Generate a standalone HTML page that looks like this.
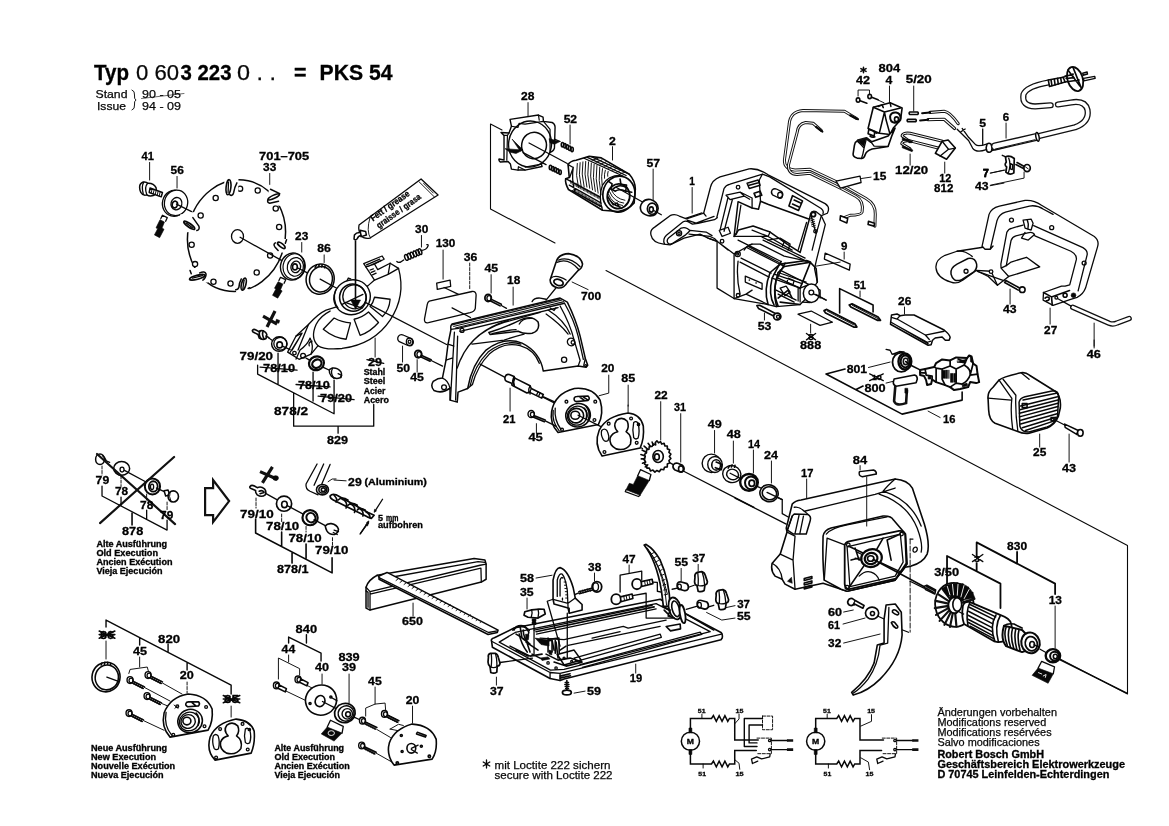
<!DOCTYPE html>
<html><head><meta charset="utf-8"><title>PKS 54</title>
<style>
html,body{margin:0;padding:0;background:#fff;}
svg{display:block;font-family:"Liberation Sans",sans-serif;will-change:transform;opacity:0.999;}
svg *{vector-effect:non-scaling-stroke;}
.s{fill:none;stroke:#080808;stroke-width:1.3;stroke-linecap:round;stroke-linejoin:round;}
.t{fill:none;stroke:#080808;stroke-width:0.95;stroke-linecap:round;stroke-linejoin:round;}
.h{fill:none;stroke:#080808;stroke-width:1.6;stroke-linecap:round;stroke-linejoin:round;}
.w{fill:#fff;stroke:#080808;stroke-width:1.3;stroke-linecap:round;stroke-linejoin:round;}
.k{fill:#080808;stroke:#080808;stroke-width:0.6;stroke-linejoin:round;}
.b{font-weight:bold;fill:#000;stroke:#000;stroke-width:0.3;}
.r{fill:#080808;stroke:#080808;stroke-width:0.25;}
</style></head><body>
<svg width="1169" height="826" viewBox="0 0 1169 826">
<rect x="0" y="0" width="1169" height="826" fill="#fff"/>
<!-- 00_title.svg -->
<g>
<text x="94" y="80.2" font-size="21.6" class="b" textLength="35" lengthAdjust="spacingAndGlyphs">Typ</text>
<text x="136" y="80.2" font-size="21.6" class="r" textLength="43" lengthAdjust="spacingAndGlyphs">0 60</text>
<text x="180.5" y="80.2" font-size="21.6" class="b" textLength="51" lengthAdjust="spacingAndGlyphs">3 223</text>
<text x="237" y="80.2" font-size="21.6" class="r" textLength="39" lengthAdjust="spacingAndGlyphs">0 . .</text>
<text x="294" y="80.2" font-size="21.6" class="b" textLength="12.5" lengthAdjust="spacingAndGlyphs">=</text><text x="319.5" y="80.2" font-size="21.6" class="b" textLength="73" lengthAdjust="spacingAndGlyphs">PKS 54</text>
<text x="95.5" y="98" font-size="11.5" class="r" textLength="32" lengthAdjust="spacingAndGlyphs">Stand</text>
<text x="97" y="109.5" font-size="11.5" class="r" textLength="29" lengthAdjust="spacingAndGlyphs">Issue</text>
<path class="t" d="M132 90 q3 1 2.5 5 q-0.5 4 1.5 5 q-2 1 -1.500 5 q0.5 4 -2.5 5"/>
<text x="142" y="98" font-size="11.5" class="r" textLength="39" lengthAdjust="spacingAndGlyphs">90 - 05</text>
<text x="142" y="109.5" font-size="11.5" class="r" textLength="39" lengthAdjust="spacingAndGlyphs">94 - 09</text>
<path class="t" d="M141.500 98.5 L184 93.5" style="stroke-width:0.6"/>
</g>

<!-- 10_blade.svg -->
<g transform="translate(120 140) scale(0.20016)">
<!-- labels -->
<text x="108" y="100" font-size="56" class="b" textLength="62" lengthAdjust="spacingAndGlyphs">41</text>
<text x="253" y="170" font-size="56" class="b" textLength="66" lengthAdjust="spacingAndGlyphs">56</text>
<text x="695" y="100" font-size="56" class="b" textLength="250" lengthAdjust="spacingAndGlyphs">701–705</text>
<text x="715" y="155" font-size="56" class="b" textLength="66" lengthAdjust="spacingAndGlyphs">33</text>
<text x="875" y="500" font-size="56" class="b" textLength="66" lengthAdjust="spacingAndGlyphs">23</text>
<text x="985" y="562" font-size="56" class="b" textLength="68" lengthAdjust="spacingAndGlyphs">86</text>
<path class="t" d="M148 112V200M285 182V240M748 167V222M908 512V560M1020 574V612"/>
<!-- bolt 41 -->
<path class="w" d="M98 236 q0 -20 18 -26 q16 -2 22 6 q30 -2 42 22 q6 24 -10 38 q-22 8 -36 -2 q-20 6 -30 -12 q-6 -12 -6 -26z" style="stroke-width:1.5"/>
<path class="s" d="M138 216 q-18 20 -4 58 M118 212 q-12 20 -2 56"/>
<path class="w" d="M150 240 L212 262 L206 284 L146 262Z" style="stroke-width:1.5"/>
<path class="t" d="M160 246l-4 18M170 250l-4 18M180 254l-4 18M190 258l-4 18M200 262l-4 18"/>
<!-- washer 56 -->
<ellipse class="w" cx="272" cy="316" rx="60" ry="65" transform="rotate(15 272 316)"/>
<ellipse class="w" cx="280" cy="314" rx="58" ry="64" transform="rotate(15 280 314)"/>
<ellipse class="s" cx="282" cy="318" rx="27" ry="31" transform="rotate(15 282 318)"/>
<ellipse class="h" cx="274" cy="322" rx="13" ry="17" transform="rotate(15 274 322)"/>
<path class="s" d="M282 320 L358 358"/>
<!-- wrench icon 1 -->
<path class="k" d="M200 398 l22 12 l-12 30 l10 6 l-22 42 l-26 -14 l16 -30 l-8 -5z"/>
<path class="s" d="M204 392 l8 -16 l24 12 l-8 18"/>
<!-- blade -->
<ellipse class="w" cx="582" cy="478" rx="243" ry="280" transform="rotate(12 582 478)" style="stroke-width:1.5"/>
<g class="w">
<circle cx="600" cy="243" r="13"/><circle cx="688" cy="252" r="13"/><circle cx="478" cy="290" r="13"/>
<circle cx="778" cy="342" r="13"/><circle cx="403" cy="377" r="13"/><circle cx="795" cy="435" r="13"/>
<circle cx="358" cy="523" r="13"/><circle cx="750" cy="577" r="13"/><circle cx="375" cy="620" r="13"/>
<circle cx="683" cy="662" r="13"/><circle cx="467" cy="708" r="13"/><circle cx="552" cy="717" r="13"/>
<ellipse cx="587" cy="482" rx="30" ry="34"/>
</g>
<!-- teeth -->
<g>
<path d="M520 190 L592 188 L590 290 L525 290z" fill="#fff" stroke="none"/>
<ellipse class="w" cx="542" cy="236" rx="12" ry="38" transform="rotate(6 542 236)" style="stroke-width:1.6"/>
<path class="s" d="M542 210 L540 262"/>
<path class="s" d="M548 273 Q562 284 568 262 Q572 236 584 214" style="stroke-width:1.5"/>
<path d="M748 236 L820 262 L806 330 L726 318z" fill="#fff" stroke="none"/>
<path class="s" d="M752 246 L798 268" style="stroke-width:1.5"/>
<ellipse class="w" cx="768" cy="284" rx="31" ry="8" transform="rotate(-25 768 284)" style="stroke-width:1.6"/>
<path class="s" d="M740 297 Q732 312 748 316 L792 306" style="stroke-width:1.5"/>
<path d="M300 372 L372 360 L410 455 L322 462z" fill="#fff" stroke="none"/>
<ellipse class="w" cx="346" cy="426" rx="33" ry="9" transform="rotate(36 346 426)" style="stroke-width:1.7"/>
<path class="s" d="M330 414 L362 438"/>
<path class="s" d="M364 388 L394 430 Q400 448 384 452" style="stroke-width:1.5"/>
<path d="M762 494 L846 494 L838 566 L762 556z" fill="#fff" stroke="none"/>
<ellipse class="w" cx="806" cy="526" rx="23" ry="9" transform="rotate(38 806 526)" style="stroke-width:1.7"/>
<path class="s" d="M832 498 L826 516 M776 514 Q764 522 774 534 L790 552" style="stroke-width:1.5"/>
<path d="M330 640 L436 640 L440 712 L345 712z" fill="#fff" stroke="none"/>
<ellipse class="w" cx="386" cy="686" rx="40" ry="10" transform="rotate(-14 386 686)" style="stroke-width:1.7"/>
<path class="s" d="M362 690 L412 678"/>
<path class="s" d="M350 652 L356 668 M398 664 Q424 652 430 670 Q430 690 414 700" style="stroke-width:1.5"/>
<path d="M578 682 L650 680 L646 762 L580 760z" fill="#fff" stroke="none"/>
<ellipse class="w" cx="618" cy="720" rx="11" ry="31" transform="rotate(14 618 720)" style="stroke-width:1.7"/>
<path class="s" d="M620 700 L614 742"/>
<path class="s" d="M578 748 Q590 748 594 736 Q596 712 606 694 M640 742 L648 738" style="stroke-width:1.5"/>
</g>
<path class="s" d="M600 486 L858 630"/>
<!-- washer 23 -->
<ellipse class="w" cx="862" cy="632" rx="60" ry="68" transform="rotate(12 862 632)" style="stroke-width:1.4"/>
<ellipse class="s" cx="870" cy="632" rx="55" ry="64" transform="rotate(12 870 632)" style="stroke-width:1.2"/>
<ellipse class="s" cx="876" cy="634" rx="40" ry="47" transform="rotate(12 876 634)" style="stroke-width:1.2"/>
<ellipse class="s" cx="878" cy="634" rx="24" ry="29" transform="rotate(12 878 634)"/>
<ellipse class="h" cx="874" cy="634" rx="12" ry="15"/>
<path class="s" d="M886 638 L936 664"/>
<!-- wrench icon 2 -->
<path class="k" d="M790 708 l24 12 l-12 28 l8 6 l-22 36 l-26 -14 l16 -30 l-6 -6z"/>
<path class="s" d="M794 702 l8 -16 l26 12 l-8 18"/>
<!-- ring 86 -->
<ellipse class="w" cx="1000" cy="695" rx="70" ry="76" transform="rotate(12 1000 695)" style="stroke-width:1.5"/>
<ellipse class="s" cx="1004" cy="696" rx="57" ry="64" transform="rotate(12 1004 696)" style="stroke-width:1.5"/>
<path class="h" d="M975 636 l6 -10 M992 632 l4 -10 M1008 634 l2 -10 M1022 638 l2 -8"/>
<path class="s" d="M1000 695 L1085 742"/>
</g>

<!-- 20_guard.svg -->
<g transform="translate(230 250) scale(0.20016)">
<!-- guard body -->
<path class="w" d="M690 178 L722 150 L668 68 L760 30 L770 46 L722 70 L738 98 L800 66 L842 92 Q880 230 800 350 Q720 470 560 492 Q470 500 440 478 L405 520 L345 546 L288 510 L330 430 L392 372 Q440 318 480 300 L540 282 Z"/>
<path class="s" d="M722 150 L790 122 L800 66 M790 122 L842 92 M678 84 L722 70 M682 74 L748 46 M690 82 L756 52 M700 100 L716 94 M706 112 L724 104 M712 124 L730 116"/>
<path class="s" d="M440 478 Q400 440 430 372 Q450 330 500 305 M405 520 Q420 480 400 440 Q390 470 350 500 L330 545 M330 430 L360 415 L310 500 M345 440 L300 512"/>
<path class="s" d="M392 372 L340 500"/>
<circle class="s" cx="322" cy="515" r="9"/><circle class="s" cx="365" cy="528" r="12"/>
<path class="s" d="M410 455 q-20 6 -14 24"/>
<!-- windows -->
<path class="s" d="M466 396 L520 340 Q560 362 602 364 L580 446 Q520 440 466 396Z"/>
<path class="s" d="M620 346 Q660 338 692 310 L742 362 Q700 410 650 426Z"/>
<path class="s" d="M722 236 L800 246 Q796 300 762 332 L700 282 Q716 262 722 236Z"/>
<!-- hub -->
<ellipse class="w" cx="610" cy="236" rx="92" ry="86" transform="rotate(-25 610 236)" style="stroke-width:1.4"/>
<path class="s" d="M528 200 Q510 250 540 290 M585 152 l6 -12 l12 4"/>
<ellipse class="w" cx="614" cy="238" rx="66" ry="68" transform="rotate(-25 614 238)" style="stroke-width:1.6"/>
<ellipse class="s" cx="622" cy="234" rx="58" ry="60" transform="rotate(-25 622 234)"/>
<path class="s" d="M560 272 L664 222 M575 262 L660 290"/>
<!-- arrow -->
<path class="h" d="M627 -45 V262"/>
<path class="k" d="M603 250 L652 250 L628 296Z"/>
<!-- axis line -->
<path class="s" d="M676 262 L1082 472"/>
<!-- labels -->
<text x="48" y="550" font-size="56" class="b" textLength="167" lengthAdjust="spacingAndGlyphs">79/20</text>
<text x="165" y="612" font-size="56" class="b" textLength="160" lengthAdjust="spacingAndGlyphs">78/10</text>
<text x="340" y="697" font-size="56" class="b" textLength="158" lengthAdjust="spacingAndGlyphs">78/10</text>
<text x="450" y="757" font-size="56" class="b" textLength="160" lengthAdjust="spacingAndGlyphs">79/20</text>
<text x="220" y="822" font-size="56" class="b" textLength="170" lengthAdjust="spacingAndGlyphs">878/2</text>
<path class="s" d="M150 585 L335 600 M330 672 L500 684 M440 730 L620 748"/>
<text x="690" y="580" font-size="56" class="b" textLength="70" lengthAdjust="spacingAndGlyphs">29</text>
<path class="s" d="M684 548 L768 566"/>
<text x="668" y="626" font-size="44" class="b" textLength="108" lengthAdjust="spacingAndGlyphs">Stahl</text>
<text x="668" y="672" font-size="44" class="b" textLength="108" lengthAdjust="spacingAndGlyphs">Steel</text>
<text x="668" y="718" font-size="44" class="b" textLength="108" lengthAdjust="spacingAndGlyphs">Acier</text>
<text x="668" y="763" font-size="44" class="b" textLength="126" lengthAdjust="spacingAndGlyphs">Acero</text>
<text x="832" y="608" font-size="56" class="b" textLength="68" lengthAdjust="spacingAndGlyphs">50</text>
<text x="900" y="656" font-size="56" class="b" textLength="68" lengthAdjust="spacingAndGlyphs">45</text>
<path class="t" d="M725 440V535M862 480V560M935 548V610"/>
<text x="485" y="968" font-size="56" class="b" textLength="105" lengthAdjust="spacingAndGlyphs">829</text>
<!-- bracket lines -->
<path class="s" d="M138 575V620L520 818M240 515V668M415 610V755M520 650V818M318 715V880H718V772M540 880V915"/>
<!-- bushing 50 -->
<path class="w" d="M842 430 q10 -12 26 -4 l40 18 q14 14 4 28 q-10 12 -26 4 l-40 -18 q-14 -12 -4 -28z"/>
<ellipse class="s" cx="897" cy="458" rx="16" ry="18"/><ellipse class="s" cx="897" cy="458" rx="7" ry="8"/>
<!-- screw 45 -->
<ellipse class="w" cx="940" cy="520" rx="17" ry="19" style="stroke-width:1.8"/><ellipse class="s" cx="946" cy="522" rx="12" ry="14"/>
<path class="h" d="M955 526 L1005 548 M952 534 L1000 556"/>
<path class="s" d="M1005 552 L1062 580"/>
<!-- X mark -->
<path d="M165 330 L235 370 M225 305 L185 385" stroke="#111" stroke-width="3.2" fill="none" stroke-linecap="butt"/>
<path class="k" d="M232 346 l16 6 l-4 14 l-16 -6z"/>
<!-- bolt 79/20 left -->
<path class="w" d="M112 402 q6 -10 18 -2 l14 8 l12 -6 q20 0 28 20 l-4 20 q-16 10 -34 -2 l-6 -18 l-16 -8 q-14 -4 -12 -12z" style="stroke-width:1.6"/>
<path class="h" d="M150 404 q-10 20 6 40 M166 404 q-8 18 4 40 M180 430 l14 8"/>
<!-- washer 78 left -->
<ellipse class="w" cx="246" cy="470" rx="38" ry="36" style="stroke-width:1.5"/>
<ellipse class="s" cx="252" cy="468" rx="33" ry="32"/>
<ellipse class="s" cx="248" cy="474" rx="14" ry="15" style="stroke-width:1.6"/>
<path class="s" d="M194 440 L212 452 M262 480 L300 498"/>
<!-- washer 78 right -->
<ellipse class="w" cx="432" cy="566" rx="38" ry="34" style="stroke-width:2.2" transform="rotate(-20 432 566)"/>
<ellipse class="s" cx="434" cy="568" rx="24" ry="20" style="stroke-width:2.2" transform="rotate(-30 434 568)"/>
<path class="s" d="M380 540 L398 550 M466 586 L500 602"/>
<!-- bolt 79/20 right -->
<path class="w" d="M496 598 l14 -8 q26 -4 44 18 q8 18 -4 30 q-24 10 -44 -8 q-12 -16 -10 -32z" style="stroke-width:1.5"/>
<path class="s" d="M512 592 q-12 22 6 48 M540 618 l18 8 l-4 12"/>
</g>

<!-- 30_tube.svg -->
<g transform="translate(340 165) scale(0.20016)">
<!-- grease tube -->
<path class="w" d="M95 300 L405 70 L490 150 L150 365 Q120 372 104 352 Q90 325 95 300Z"/>
<path class="s" d="M395 84 L472 160 M418 92l8 8M428 102l8 8M438 112l8 8M448 122l8 8M458 132l8 8M152 365 Q130 330 150 262" style="stroke-width:0.9"/>
<path class="w" d="M100 326 l28 6 l4 18 l-26 8z M72 350 q10 -14 30 -12 l4 14 q-14 0 -20 16 q-10 10 -16 2z" style="stroke-width:1.5"/>
<g transform="rotate(-35.5 165 282)"><text x="165" y="282" font-size="44" class="b" textLength="228" lengthAdjust="spacingAndGlyphs">Fett / grease</text></g>
<g transform="rotate(-35.5 195 318)"><text x="195" y="318" font-size="44" class="b" textLength="262" lengthAdjust="spacingAndGlyphs">graisse / grasa</text></g>
<!-- 30 spring -->
<text x="375" y="340" font-size="56" class="b" textLength="66" lengthAdjust="spacingAndGlyphs">30</text>
<path class="t" d="M407 352V410"/>
<path class="s" d="M284 482 q10 12 34 -8 M404 428 q30 -4 36 -24 q2 -8 -6 -6"/>
<g class="s" style="stroke-width:1.5"><ellipse cx="332" cy="462" rx="8" ry="15" transform="rotate(-20 332 462)"/><ellipse cx="346" cy="456" rx="8" ry="15" transform="rotate(-20 346 456)"/><ellipse cx="360" cy="450" rx="8" ry="15" transform="rotate(-20 360 450)"/><ellipse cx="374" cy="444" rx="8" ry="15" transform="rotate(-20 374 444)"/><ellipse cx="388" cy="438" rx="8" ry="15" transform="rotate(-20 388 438)"/><ellipse cx="400" cy="433" rx="8" ry="15" transform="rotate(-20 400 433)"/></g>
<!-- 130 -->
<text x="478" y="410" font-size="56" class="b" textLength="98" lengthAdjust="spacingAndGlyphs">130</text>
<path class="t" d="M515 425V570"/>
<path class="w" d="M483 590 L550 575 L553 606 L486 621Z"/>
<path class="s" d="M520 612 L592 646"/>
<!-- 36 -->
<text x="618" y="478" font-size="56" class="b" textLength="68" lengthAdjust="spacingAndGlyphs">36</text>
<path class="t" d="M648 490V622" stroke-dasharray="3 1.5"/>
<path class="w" d="M446 680 L660 632 Q680 630 680 650 L676 716 Q672 732 650 738 L442 788 Q420 792 422 770 L436 696 Q438 684 446 680Z"/>
<path class="s" d="M560 714 L652 762"/>
<!-- 45 -->
<text x="722" y="535" font-size="56" class="b" textLength="68" lengthAdjust="spacingAndGlyphs">45</text>
<path class="t" d="M755 548V640"/>
<ellipse class="w" cx="740" cy="664" rx="16" ry="18" style="stroke-width:1.8"/><ellipse class="s" cx="745" cy="666" rx="11" ry="13"/>
<path class="h" d="M754 670 L806 696 M750 678 L800 704"/>
<path class="s" d="M806 702 L832 716"/>
<!-- 18 -->
<text x="835" y="595" font-size="56" class="b" textLength="66" lengthAdjust="spacingAndGlyphs">18</text>
<path class="t" d="M865 610V700"/>
</g>
<!-- long boundary line -->
<path class="s" d="M502 130 L490.500 124 V209 L555 243 M606 270.500 L1127.500 545.500 V694 L1059 658.500" style="stroke-width:1.1"/>

<!-- 40_stator.svg -->
<g transform="translate(480 85) scale(0.20016)">
<text x="205" y="75" font-size="56" class="b" textLength="67" lengthAdjust="spacingAndGlyphs">28</text>
<text x="418" y="188" font-size="56" class="b" textLength="67" lengthAdjust="spacingAndGlyphs">52</text>
<text x="645" y="298" font-size="56" class="b" textLength="34" lengthAdjust="spacingAndGlyphs">2</text>
<text x="832" y="408" font-size="56" class="b" textLength="68" lengthAdjust="spacingAndGlyphs">57</text>
<text x="1046" y="500" font-size="56" class="b" textLength="28" lengthAdjust="spacingAndGlyphs">1</text>
<path class="t" d="M240 88V160M450 200V295M662 308V375M865 420V575M1060 512V640"/>
<!-- fan 28 -->
<path class="w" d="M150 172 L292 150 L315 160 L317 182 L360 187 Q376 196 375 212 L372 315 Q366 334 350 335 L307 395 L310 407 L225 425 L190 425 L157 420 L152 395 L140 382 L102 385 Q92 378 95 370 L120 375 L120 252 L105 237 L145 240 L157 206 Z" style="stroke-width:1.4"/>
<ellipse class="w" cx="250" cy="295" rx="107" ry="115" transform="rotate(10 250 295)" style="stroke-width:1.4"/>
<ellipse class="w" cx="270" cy="302" rx="62" ry="66" transform="rotate(10 270 302)" style="stroke-width:1.5"/>
<path class="s" d="M157 206 L190 212 L195 192 L225 195 L317 182 M292 150 L296 176 M120 252 L137 252 L145 240 M137 252 L134 376 M190 425 L192 408 L225 425 M226 410 L307 395 M350 222 L350 335 M350 222 L317 182 M372 270 L400 282" style="stroke-width:1.2"/>
<path class="k" d="M345 268 L400 282 L372 296 L350 290Z M125 318 L215 325 L180 342 L150 336Z M160 270 L215 325 L200 330Z"/>
<path class="s" d="M245 290 L436 392 M215 338 L330 398"/>
<!-- springs 52 -->
<g class="s" style="stroke-width:1.6"><ellipse cx="412" cy="298" rx="6" ry="11"/><ellipse cx="424" cy="304" rx="6" ry="11"/><ellipse cx="436" cy="310" rx="6" ry="11"/><ellipse cx="448" cy="316" rx="6" ry="11"/><ellipse cx="460" cy="322" rx="6" ry="11"/>
<ellipse cx="352" cy="412" rx="6" ry="11"/><ellipse cx="364" cy="418" rx="6" ry="11"/><ellipse cx="376" cy="424" rx="6" ry="11"/><ellipse cx="388" cy="430" rx="6" ry="11"/><ellipse cx="400" cy="436" rx="6" ry="11"/></g>
<!-- stator 2 -->
<path class="w" d="M440 398 Q450 380 480 376 L546 356 L606 364 L746 446 Q776 480 776 520 L770 590 Q740 625 690 632 L612 626 L442 522 Q424 490 428 468 L446 462 Z" style="stroke-width:1.6"/>
<path class="s" d="M440 398 l26 14 l-18 50 M612 626 Q590 560 612 500 Q640 452 700 452 M466 412 Q456 470 474 536 M520 366 L716 456 M556 358 L746 446 M536 362 L730 452 M428 468 L600 560 M446 500 L606 590 M460 528 L610 610"/>
<g class="t"><path d="M486 392 q-10 60 6 120 M500 388 q-10 60 6 122 M514 384 q-10 60 6 124 M528 382 q-10 62 6 128 M542 384 q-10 64 6 132 M556 390 q-10 64 6 134 M570 396 q-10 64 6 136 M584 402 q-10 64 6 138 M598 410 q-8 64 6 138 M612 418 q-8 40 -2 80 M626 426 q-6 20 -4 40 M640 432 q-4 14 -2 24"/>

<path d="M560 376 l30 -10 M580 386 l30 -12 M600 396 l30 -12 M620 406 l30 -12 M640 416 l30 -12 M660 426 l30 -12 M680 436 l30 -12 M700 444 l24 -8"/></g>
<path class="t" d="M452 476 l2 16 M459 480 l2 16 M466 484 l2 16 M473 488 l2 16 M480 491 l2 16 M487 495 l2 16 M494 499 l2 16 M501 503 l2 16 M508 507 l2 16 M515 511 l2 16 M522 514 l2 16 M529 518 l2 16 M536 522 l2 16 M543 526 l2 16 M550 530 l2 16 M557 534 l2 16 M564 538 l2 16 M571 541 l2 16 M578 545 l2 16 M585 549 l2 16 M592 553 l2 16 M599 557 l2 16 M470 520 l2 14 M477 524 l2 14 M484 528 l2 14 M491 532 l2 14 M498 536 l2 14 M505 540 l2 14 M512 544 l2 14 M519 548 l2 14 M526 552 l2 14 M533 557 l2 14 M540 561 l2 14 M547 565 l2 14 M554 569 l2 14 M561 573 l2 14 M568 577 l2 14 M575 581 l2 14 M582 585 l2 14 M589 589 l2 14 M596 593 l2 14" style="stroke-width:0.8"/>
<ellipse class="s" cx="694" cy="545" rx="80" ry="90" transform="rotate(10 694 545)" style="stroke-width:1.7"/>
<ellipse class="s" cx="692" cy="556" rx="56" ry="62" transform="rotate(10 692 556)" style="stroke-width:1.8"/>
<path class="h" d="M640 480 l20 14 l-6 26 l20 10 M700 470 l4 26 l28 4 l-4 30 l30 6 M640 560 q20 40 60 50 M650 576 l16 22 l20 -8 l10 20 M664 520 q30 -30 70 -6 M676 530 q20 -14 50 0"/>
<g class="t"><path d="M642 546 q20 50 70 56 M648 534 q20 50 70 56 M656 524 q20 44 68 52"/></g>
<path class="s" d="M682 512 L850 606"/>
<!-- bushing 57 -->
<path class="w" d="M812 586 q14 -18 40 -14 q36 10 38 44 q-4 36 -40 38 q-26 -2 -44 -22 q-12 -24 6 -46z" style="stroke-width:1.6"/>
<ellipse class="s" cx="860" cy="618" rx="24" ry="28" style="stroke-width:1.6"/>
<ellipse class="h" cx="856" cy="622" rx="10" ry="13"/>
<path class="s" d="M866 626 L906 648"/>
</g>

<!-- 50_housing1.svg -->
<g transform="translate(640 150) scale(0.20016)">
<!-- outer silhouette fill white -->
<path class="w" d="M55 425 Q48 400 75 384 L150 328 Q172 316 196 330 L232 344 L318 316 L352 186 Q360 150 400 134 L545 94 Q592 90 640 124 L925 268 Q952 286 936 316 L906 328 L926 372 L882 548 L872 592 L886 660 L830 742 L800 772 L680 782 L640 772 L470 742 L385 690 L385 456 L340 440 L300 420 L220 440 L150 474 L118 470 Q62 462 55 425Z"/>
<!-- knob loops -->
<path class="s" d="M122 468 Q112 446 132 426 L214 360 Q226 352 240 358 L262 370 L290 366 L372 348 L386 338 M140 466 Q130 450 144 438 L206 390 Q222 384 236 392 L250 402 Q240 414 228 424 L160 468 Q148 474 140 466 Z M228 342 L310 314 M236 350 L280 365 L370 332 M245 420 L350 432 L372 442 L384 454 M250 402 L330 410 L360 428 M318 316 L330 330"/>
<circle class="s" cx="195" cy="416" r="13"/><circle class="s" cx="195" cy="416" r="6"/>
<!-- inner rim of top beam -->
<path class="s" d="M384 336 L420 192 Q428 176 450 170 L612 120 L648 134 L905 292 Q920 304 914 318 M612 120 L596 150 L602 256"/>
<!-- hand opening -->
<path class="w" d="M490 258 L560 290 L592 296 L602 256 L642 272 L846 346 L800 512 L735 470 L650 410 L565 380 L492 400 L470 432 Z" style="stroke-width:1.5"/>
<path class="s" d="M504 276 L482 420 M832 362 L790 500 M650 410 L640 432 L560 400 M470 432 L640 432 L760 500"/>
<!-- left pillar -->
<path class="s" d="M440 236 L400 400 M462 246 L420 406 M396 402 L440 386 L452 416 L410 432Z M430 226 L500 210 L520 230 L450 248Z M500 210 L560 240 L560 290 M520 230 L548 246"/>
<!-- top details -->
<path class="s" d="M535 166 L590 150 L600 176 L546 192Z M546 176 L596 162" style="stroke-width:1.5"/>
<circle class="s" cx="490" cy="186" r="9"/>
<path class="s" d="M570 216 l30 -10 l8 20 l-30 10z" style="stroke-width:1.8"/>
<path class="w" d="M660 200 q10 -10 24 -4 l24 12 q10 12 2 24 q-10 10 -24 4 l-24 -12 q-10 -10 -2 -24z"/><ellipse class="s" cx="700" cy="226" rx="12" ry="15"/>
<path class="s" d="M762 228 L812 254 L792 302 L744 280Z M770 250 L800 264 M762 270 L792 284" style="stroke-width:1.6"/>
<!-- right boss -->
<path class="s" d="M846 346 L852 318 Q860 300 880 308 L906 328 M906 328 L880 420 L860 500 M852 318 L880 420"/>
<circle class="s" cx="866" cy="322" r="11" style="stroke-width:1.8"/><circle class="s" cx="876" cy="406" r="8"/>
<path class="t" d="M850 340 l20 8 M852 350 l20 8 M854 360 l20 8 M856 370 l20 8 M858 380 l18 8"/>
<!-- motor box -->
<path class="s" d="M385 456 L470 520 L470 742 M470 520 L530 486 L560 470 M340 440 L385 456 L440 500 M530 486 L700 572 M560 470 L600 470 L720 530 L840 556"/>
<circle class="s" cx="488" cy="520" r="13"/><circle class="s" cx="488" cy="520" r="5"/><circle class="s" cx="410" cy="456" r="9"/><circle class="s" cx="490" cy="726" r="9"/>
<path class="s" d="M526 630 L610 666 L610 696 L526 660Z"/><circle class="k" cx="546" cy="650" r="2.500"/><circle class="k" cx="580" cy="664" r="2.500"/>
<path class="s" d="M470 742 L530 720 L640 772 M530 720 L560 700 M640 450 L700 440 L750 470 L740 500 M700 440 L720 460 L712 480"/>
<!-- motor body lines -->
<path class="s" d="M490 450 L705 557 M540 482 L695 562 M505 540 L655 615 M500 560 L645 635 M610 435 L825 540 M615 450 L830 555 M490 555 Q480 635 500 720 M520 500 Q540 470 560 470 M700 600 L860 680 M690 640 L800 690 M790 685 V755 M800 690 L800 760 M720 610 L900 700 L900 740"/>
<path class="h" d="M705 557 Q680 600 660 640 Q640 720 670 775 M725 565 Q700 610 680 650 Q664 720 690 780"/>
<!-- brush frame -->
<path class="h" d="M640 772 Q616 700 650 612 L700 570 L722 582 L690 612 Q660 700 682 782 M850 560 L880 592 L886 660 M722 582 L852 560 M700 570 L832 552 M832 552 L852 560 L800 690"/>
<path class="s" d="M660 640 L800 690 M670 620 L810 668 M690 612 L830 660 M680 700 L780 750 M690 720 L770 760 M700 690 l30 -10 l20 30 l-26 18z M740 640 l30 12 l-6 22 l-30 -12z"/>
<path class="h" d="M690 740 L740 700 L760 740 M700 760 L800 772"/>
<!-- motor end -->
<ellipse class="w" cx="856" cy="716" rx="40" ry="46" style="stroke-width:1.5"/>
<path class="s" d="M800 690 L840 674 M810 760 L850 762"/>
<circle class="s" cx="856" cy="712" r="12"/>
<path class="s" d="M866 718 L930 750"/>
<!-- plate 9 -->
<text x="1004" y="500" font-size="56" class="b" textLength="32" lengthAdjust="spacingAndGlyphs">9</text>
<path class="t" d="M1020 510V545"/>
<path class="w" d="M925 515 L1050 570 L1046 600 L921 545Z"/>
<path class="t" d="M880 580 L1000 560"/>
</g>

<!-- 55_bolt53.svg -->
<g transform="translate(700 270) scale(0.20016)">
<path class="w" d="M284 178 l14 -2 l76 40 l-6 14 l-76 -38z" style="stroke-width:1.6"/>
<ellipse class="w" cx="386" cy="232" rx="18" ry="17" style="stroke-width:1.7"/><ellipse class="s" cx="390" cy="234" rx="8" ry="8"/>
<text x="288" y="300" font-size="56" class="b" textLength="68" lengthAdjust="spacingAndGlyphs">53</text>
<path class="t" d="M322 215V250"/>
<path class="s" d="M578 122 L630 150"/>
</g>

<!-- 60_switch.svg -->
<g transform="translate(770 60) scale(0.20016)">
<defs>
<path id="w15a" d="M432 292 L372 256 L165 252 Q100 258 96 320 L72 500 Q70 545 125 550 L200 546 L335 610 L480 692 Q528 720 526 770 L524 830"/>
<path id="w15b" d="M256 352 L215 316 L178 312 Q140 320 136 360 L92 525 Q90 570 135 572 L200 566 L355 642 L430 682 Q470 704 460 760 Q455 775 400 776 L365 790"/>
<path id="w5a" d="M800 262 L870 256 Q900 260 940 318"/>
<path id="w5b" d="M790 298 L870 296 L922 342"/>
<path id="w12a" d="M700 408 L660 380 Q660 362 700 366 L862 406"/>
<path id="w12b" d="M700 444 L658 418 Q660 400 700 404 L840 440"/>
</defs>
<g fill="none" stroke-linecap="round" stroke-linejoin="round">
<use href="#w15a" stroke="#111" stroke-width="3"/><use href="#w15a" stroke="#fff" stroke-width="1.1"/>
<use href="#w15b" stroke="#111" stroke-width="3"/><use href="#w15b" stroke="#fff" stroke-width="1.1"/>
<use href="#w5a" stroke="#111" stroke-width="3.2"/><use href="#w5a" stroke="#fff" stroke-width="1.100"/>
<use href="#w5b" stroke="#111" stroke-width="3.2"/><use href="#w5b" stroke="#fff" stroke-width="1.100"/>
<use href="#w12a" stroke="#111" stroke-width="3"/><use href="#w12a" stroke="#fff" stroke-width="1"/>
<use href="#w12b" stroke="#111" stroke-width="3"/><use href="#w12b" stroke="#fff" stroke-width="1"/>
</g>
<path class="h" d="M400 276 L440 296 M230 334 L262 358 M760 266 L800 262 M750 302 L790 298" style="stroke-width:2"/>
<!-- tag 15 -->
<path class="w" d="M330 605 L450 580 L455 612 L352 640Z"/>
<text x="515" y="600" font-size="56" class="b" textLength="66" lengthAdjust="spacingAndGlyphs">15</text>
<path class="t" d="M457 592 L505 585"/>
<!-- connectors at ends of 15 -->
<path class="w" d="M352 778 l36 14 l-4 22 l-34 -14z M492 806 l30 10 l-2 14 l-30 -8z" style="stroke-width:1.6"/>
<!-- labels -->
<path class="h" d="M467 36V64M454 43L480 57M454 57L480 43" style="stroke-width:1.5"/>
<text x="430" y="118" font-size="56" class="b" textLength="70" lengthAdjust="spacingAndGlyphs">42</text>
<path class="t" d="M440 180V150H497V175"/>
<text x="542" y="62" font-size="56" class="b" textLength="108" lengthAdjust="spacingAndGlyphs">804</text>
<text x="577" y="118" font-size="56" class="b" textLength="34" lengthAdjust="spacingAndGlyphs">4</text>
<text x="678" y="115" font-size="56" class="b" textLength="130" lengthAdjust="spacingAndGlyphs">5/20</text>
<path class="t" d="M597 130V215M718 130V255M700 470V525M873 510V565M1063 345V420M1100 565L1169 550M1100 628L1169 615"/>
<text x="625" y="570" font-size="56" class="b" textLength="165" lengthAdjust="spacingAndGlyphs">12/20</text>
<text x="845" y="612" font-size="56" class="b" textLength="60" lengthAdjust="spacingAndGlyphs">12</text>
<text x="820" y="660" font-size="56" class="b" textLength="96" lengthAdjust="spacingAndGlyphs">812</text>
<text x="1045" y="335" font-size="56" class="b" textLength="34" lengthAdjust="spacingAndGlyphs">5</text>
<text x="1063" y="585" font-size="56" class="b" textLength="30" lengthAdjust="spacingAndGlyphs">7</text>
<text x="1024" y="648" font-size="56" class="b" textLength="68" lengthAdjust="spacingAndGlyphs">43</text>
<!-- screws 42 -->
<ellipse class="s" cx="440" cy="200" rx="9" ry="11" style="stroke-width:1.6"/><path class="h" d="M450 204 L484 216"/>
<ellipse class="s" cx="498" cy="182" rx="9" ry="11" style="stroke-width:1.6"/><path class="h" d="M508 186 L540 198"/>
<path class="t" d="M540 200 L570 214"/>
<!-- switch 4 -->
<path class="w" d="M516 236 L600 214 L660 240 L652 300 L616 340 L600 372 L546 366 L490 342 Z" style="stroke-width:1.6"/>
<path class="s" d="M516 236 L572 260 L546 366 M572 260 L652 240 M600 214 L604 232 M540 232 l20 -8 l6 14 M572 260 L580 300 L600 372" style="stroke-width:1.5"/>
<path class="w" d="M600 282 q4 -22 30 -20 q22 4 22 28 q-4 24 -30 24 q-22 -4 -22 -32z" style="stroke-width:2"/><ellipse class="s" cx="632" cy="296" rx="10" ry="12" style="stroke-width:1.6"/>
<path class="h" d="M494 346 l30 12 l-4 22 l-30 -12z M500 380 q10 10 24 4 M520 360 l14 6" />
<path class="w" d="M435 405 L482 392 L505 410 L540 397 L590 380 L625 340 L610 375 L590 432 L510 445 Q480 455 475 475 Q470 492 457 492 L435 490 Q415 485 415 470 L422 425 Q424 410 435 405 Z" style="stroke-width:1.6"/>
<path class="s" d="M482 392 L470 440 Q465 470 457 492 M435 405 Q450 418 470 440 M505 410 L520 430 L590 432"/>
<path d="M436 404 L482 391 L506 410" fill="none" stroke="#111" stroke-width="2.6" stroke-linejoin="round"/>
<path class="k" d="M440 408 L478 396 L470 432 Q452 416 440 408Z"/>
<!-- pins 5/20 -->
<path class="w" d="M698 260 h40 q6 6 0 12 h-40 q-6 -6 0 -12z M688 296 h40 q6 6 0 12 h-40 q-6 -6 0 -12z" style="stroke-width:1.6"/>
<!-- cable sheath & 5 -->
<path class="s" d="M935 346 L992 402 M960 342 L992 386 M952 360 L975 345 M992 402 L1012 440 Q1030 466 1080 448 M992 386 L1028 424 Q1040 434 1082 420"/>
<path class="w" d="M1084 420 q10 -8 20 0 q10 16 2 36 q-10 10 -22 0 q-8 -18 0 -36z" style="stroke-width:1.6"/>
<path class="s" d="M1110 424 L1169 408 M1112 452 L1169 436"/>
<!-- 12 body -->
<path class="w" d="M860 406 L890 400 L926 440 L882 496 L826 466 Z" style="stroke-width:1.6"/>
<path class="s" d="M860 406 L892 446 L926 440 M892 446 L850 480"/>
<path class="k" d="M662 388 l50 18 l-4 8 l-48 -16z M662 428 l52 22 l-4 8 l-50 -20z"/>
</g>

<!-- 70_cable.svg -->
<g transform="translate(935 40) scale(0.20016)">
<defs>
<path id="c6a" d="M300 532 L508 484"/>
<path id="c6b" d="M520 480 L700 436 Q772 410 762 350 Q750 300 680 312 L614 322"/>
<path id="c6c" d="M578 326 L500 332 Q432 330 442 272 Q456 232 566 212"/>
</defs>
<g fill="none" stroke-linecap="round" stroke-linejoin="round">
<use href="#c6a" stroke="#111" stroke-width="8"/><use href="#c6a" stroke="#fff" stroke-width="5.4"/>
<use href="#c6b" stroke="#111" stroke-width="6.2"/><use href="#c6b" stroke="#fff" stroke-width="3.6"/>
<use href="#c6c" stroke="#111" stroke-width="6.2"/><use href="#c6c" stroke="#fff" stroke-width="3.6"/>
</g>
<ellipse class="w" cx="512" cy="484" rx="8" ry="22" transform="rotate(-12 512 484)" style="stroke-width:1.5"/>
<path class="t" d="M300 545 L500 498"/>
<!-- plug -->
<path class="w" d="M566 200 L640 186 L650 210 L572 232 Z" style="stroke-width:1.6"/>
<path class="h" d="M580 200 l4 28 M596 196 l4 28 M612 192 l4 28 M628 190 l4 24"/>
<ellipse class="w" cx="700" cy="195" rx="38" ry="62" transform="rotate(-18 700 195)" style="stroke-width:1.8"/>
<path class="h" d="M640 186 L690 170 M650 210 L720 200 M664 150 q30 40 60 80 M690 138 q20 50 40 100 M650 180 l40 -6 M655 192 l40 -4"/>
<path class="w" d="M738 166 l22 -6 l2 10 l-22 6z M742 192 l56 -10 l2 10 l-56 12z" style="stroke-width:1.4"/>
<!-- labels -->
<text x="338" y="405" font-size="56" class="b" textLength="32" lengthAdjust="spacingAndGlyphs">6</text>
<text x="240" y="685" font-size="56" class="b" textLength="30" lengthAdjust="spacingAndGlyphs">7</text>
<path class="t" d="M355 415V490M238 445V525M278 665L350 650M278 725L445 690V660"/>
<!-- clamp 7 -->
<path class="w" d="M352 584 q20 -10 44 8 l-2 72 q-20 14 -40 -4 l4 -26 q-14 -10 -2 -24z" style="stroke-width:1.7"/>
<path class="s" d="M368 590 q14 30 -2 76 M378 618 l10 4 l-2 26 l-10 -4z M336 576 l18 8"/>
<!-- screw 43 -->
<ellipse class="w" cx="460" cy="640" rx="16" ry="18" style="stroke-width:1.7"/>
<path class="h" d="M446 632 L410 612 M442 642 L404 622"/>
<path class="t" d="M452 634 l14 10"/>
</g>

<!-- 80_handle2.svg -->
<g transform="translate(925 180) scale(0.20016)">
<!-- outer -->
<path class="w" d="M285 332 L320 172 Q330 140 372 130 L500 102 Q542 98 582 126 L846 282 Q872 302 862 334 L802 540 Q790 572 760 586 L724 598 L640 626 L590 600 L592 562 L682 530 L700 530 L723 524 L756 398 Q760 372 729 356 L549 279 Q545 256 513 264 L454 279 Q436 284 430 302 L406 428 L430 410 L507 386 L573 434 L418 482 L362 526 L316 482 L256 452 L190 500 Q160 522 130 510 Q60 490 55 440 Q50 400 100 376 L160 356 L290 336 Z"/>
<path class="s" d="M326 346 L360 202 Q370 170 402 160 L522 130 Q560 124 592 146 L640 172 M290 336 L300 346 L326 346 L340 330 M379 420 L409 261 Q416 244 436 240 L490 225 M543 228 L789 338 Q814 352 810 374 L765 554 M406 428 L380 440 L379 420 M256 452 L330 456 L362 526 M418 482 L380 440"/>
<path class="w" d="M490 200 L530 195 L540 216 L530 250 L500 240Z"/>
<path class="s" d="M510 198 q10 20 4 46 M500 262 L482 290 L516 300 L546 274"/>
<circle class="s" cx="432" cy="200" r="10"/><circle class="s" cx="633" cy="238" r="10"/><circle class="s" cx="795" cy="415" r="10"/>
<!-- knob face -->
<path class="w" d="M130 470 Q124 440 160 420 L215 392 Q250 386 258 420 Q262 444 240 462 L180 500 Q140 512 130 470Z" style="stroke-width:1.5"/>
<circle class="s" cx="205" cy="456" r="10"/>
<path class="s" d="M160 356 Q200 350 236 382"/>
<!-- screw 43 -->
<path class="s" d="M262 456 L404 506"/>
<circle class="w" cx="330" cy="458" r="9"/>
<path class="h" d="M404 502 L470 538 M398 512 L466 550"/>
<circle class="w" cx="486" cy="548" r="14" style="stroke-width:1.6"/>
<text x="390" y="665" font-size="56" class="b" textLength="68" lengthAdjust="spacingAndGlyphs">43</text>
<text x="595" y="768" font-size="56" class="b" textLength="66" lengthAdjust="spacingAndGlyphs">27</text>
<path class="t" d="M425 545V620M625 640V720M845 715V830"/>
<!-- foot 27 -->
<path class="h" d="M592 562 L632 584 L722 552 M632 584 L636 626 M600 590 q10 -10 20 -2 q4 14 -14 16"/>
<circle class="s" cx="700" cy="576" r="10" style="stroke-width:1.6"/><circle class="k" cx="742" cy="576" r="12"/>
<circle class="s" cx="656" cy="588" r="7"/>
<!-- hex key 46 -->
<path d="M738 636 L920 716 Q940 724 960 714 L1020 692" fill="none" stroke="#111" stroke-width="5.4" stroke-linecap="round" stroke-linejoin="round"/>
<path d="M738 636 L920 716 Q940 724 960 714 L1020 692" fill="none" stroke="#fff" stroke-width="2.800" stroke-linecap="round" stroke-linejoin="round"/>
<path class="s" d="M662 592 L730 630"/>
</g>

<!-- 90_brush.svg -->
<g transform="translate(790 275) scale(0.20016)">
<!-- 51 -->
<text x="318" y="70" font-size="56" class="b" textLength="62" lengthAdjust="spacingAndGlyphs">51</text>
<path class="h" d="M248 190V68L415 150V185"/>
<path class="t" d="M350 80V110"/>
<path class="w" d="M170 178 l14 -6 l140 72 l10 16 l-16 0 l-140 -70z M296 150 l14 -6 l130 66 l12 16 l-16 0 l-132 -66z" style="stroke-width:1.8"/>
<path class="t" d="M186 180 L320 250 M312 152 L440 218"/>
<!-- 888 -->
<path class="w" d="M40 196 L106 180 L212 236 L150 252Z"/>
<path class="t" d="M103 246V290"/>
<text x="90" y="326" font-size="44" class="b" textLength="30" lengthAdjust="spacingAndGlyphs">8</text>
<path class="s" d="M82 292 L128 324 M128 292 L82 324"/>
<text x="50" y="370" font-size="56" class="b" textLength="106" lengthAdjust="spacingAndGlyphs">888</text>
<!-- 26 -->
<text x="540" y="150" font-size="56" class="b" textLength="66" lengthAdjust="spacingAndGlyphs">26</text>
<path class="t" d="M572 160V195"/>
<path class="w" d="M507 200 L535 195 L550 203 L575 200 L620 200 L770 275 Q800 300 800 312 L795 326 L776 326 L760 310 L725 315 Q712 322 710 332 L705 348 L690 351 L502 246 Z" style="stroke-width:1.5"/>
<path class="s" d="M502 235 L686 336 L705 330 M535 220 L676 300 L770 281 M676 300 L696 322 M550 203 L535 220 L507 212 M512 240 L690 343"/>
<!-- 801 -->
<text x="283" y="488" font-size="56" class="b" textLength="102" lengthAdjust="spacingAndGlyphs">801</text>
<path class="t" d="M392 462L500 435M480 540L520 530M690 680L750 712"/>
<ellipse class="w" cx="556" cy="436" rx="44" ry="48" style="stroke-width:1.8"/>
<ellipse class="w" cx="574" cy="432" rx="32" ry="40" style="stroke-width:2.4"/><ellipse class="s" cx="576" cy="432" rx="23" ry="30" style="stroke-width:2"/>
<ellipse cx="578" cy="432" rx="12" ry="16" fill="#fff" stroke="#111" stroke-width="1.6"/>
<path class="h" d="M578 432 L604 450"/>
<path class="s" d="M480 372 l20 4 l10 20 l40 -14 M520 396 q20 -18 50 -12"/>
<path class="h" d="M606 452 L650 474"/>
<!-- 800 -->
<text x="408" y="526" font-size="38" class="b" textLength="50" lengthAdjust="spacingAndGlyphs">10</text>
<path class="s" d="M398 494 L466 528 M466 494 L398 528"/>
<text x="372" y="583" font-size="56" class="b" textLength="106" lengthAdjust="spacingAndGlyphs">800</text>
<path class="w" d="M520 520 L622 500 Q636 502 636 520 L630 538 L530 556 Q516 552 516 536Z" style="stroke-width:1.6"/>
<path d="M526 556 L520 630 Q530 658 580 640 L584 576" fill="none" stroke="#111" stroke-width="2.6" stroke-linecap="round"/>
<path class="k" d="M574 566 h14 v24 h-14z"/>
<!-- 16 -->
<text x="765" y="740" font-size="56" class="b" textLength="62" lengthAdjust="spacingAndGlyphs">16</text>
<path class="h" d="M275 470L180 495L560 695L860 625V585M365 555L330 572"/>
<!-- brush holder blob -->
<path class="w" d="M650 475 L675 470 L720 460 L730 440 L760 422 L800 427 L830 412 L885 415 L895 402 L907 407 L915 442 L932 455 L937 495 L945 535 L930 540 L900 535 L890 560 L850 570 L820 575 L800 560 L775 550 L730 535 L710 522 L705 545 L685 550 L680 525 L670 505 L650 500 Z" style="stroke-width:2"/>
<path class="h" d="M730 465 L730 535 M720 460 L730 465 L760 470 L760 520 L775 550 M760 470 L800 455 L830 470 L830 540 L800 560 M800 455 L800 427 M830 470 L870 450 L885 415 M870 450 Q905 470 900 500 Q890 530 860 545 L830 540 M915 442 L900 500 M937 495 L900 500 M675 470 L680 500 L710 505 L710 522 M650 488 L680 490 M840 420 q20 14 40 4 M850 432 q14 8 28 2" style="stroke-width:1.7"/>
<path class="k" d="M762 476 h16 v40 h-16z M802 492 h12 v44 h-12z M818 492 h10 v44 h-10z M690 506 h14 v14 h-14z M900 404 l8 4 l4 30 l-10 -4z M860 548 l24 -8 l4 12 l-26 8z"/>
<path class="t" d="M782 476 v40 M788 476 v40 M794 476 v40 M835 430 l40 0 M836 436 l36 2"/>
</g>

<!-- 95_cap25.svg -->
<g transform="translate(935 340) scale(0.20016)">
<text x="758" y="88" font-size="56" class="b" textLength="70" lengthAdjust="spacingAndGlyphs">46</text>
<path class="t" d="M795 0V40"/>
<path class="w" d="M265 290 Q262 260 290 236 L320 200 Q340 184 430 164 Q452 160 472 176 L600 256 Q632 282 626 340 L616 382 Q600 422 560 440 L470 466 Q440 470 410 456 L300 416 Q270 400 268 350 Z" style="stroke-width:1.6"/>
<path class="s" d="M320 200 L384 292 Q376 360 388 444 M265 290 L380 300 M340 196 L404 276 M404 276 Q400 360 414 456 M430 164 L470 196"/>
<path class="s" d="M420 312 Q424 290 450 284 L590 254 Q616 254 618 282 L612 382 Q600 420 560 434 L470 460 Q432 462 424 430 Z" style="stroke-width:1.5"/>
<g class="s" style="stroke-width:1.5"><path d="M440 300 L606 266 M428 330 L612 284 M424 348 L614 300 M422 366 L614 316 M422 384 L614 332 M424 402 L612 350 M428 420 L610 368 M436 438 L606 386 M452 452 L596 404"/></g>
<path class="h" d="M436 318 h24 v20 h-24z M580 388 h20 v16 h-20z"/>
<text x="490" y="578" font-size="56" class="b" textLength="66" lengthAdjust="spacingAndGlyphs">25</text>
<text x="635" y="658" font-size="56" class="b" textLength="70" lengthAdjust="spacingAndGlyphs">43</text>
<path class="t" d="M523 470V535M670 470V610" />
<path class="s" d="M592 396 L650 426"/>
<path class="w" d="M648 420 L716 452 L708 472 L650 436Z" style="stroke-width:1.5"/>
<ellipse class="w" cx="726" cy="464" rx="14" ry="17" style="stroke-width:1.6"/>
</g>

<!-- a0_housing18.svg -->
<g transform="translate(420 240) scale(0.20016)">
<!-- axis line behind -->
<path class="s" d="M300 620 L432 690"/>
<!-- body -->
<path class="w" d="M160 420 L700 290 L736 310 Q780 400 800 480 L826 592 L838 626 L830 636 L790 630 L616 655 Q600 560 510 515 Q420 480 330 550 Q260 620 238 742 L190 760 L186 810 L150 800 L150 740 Q110 770 70 752 Q50 730 66 706 Q90 690 112 690 L130 600 L140 520 L155 446 Q150 430 160 420Z" style="stroke-width:1.5"/>
<!-- rail hatch -->
<path d="M160 424 L702 294 M166 432 L710 300 M176 440 L720 308" fill="none" stroke="#111" stroke-width="1.1"/>
<path class="s" d="M190 442 L722 316 M200 456 L690 338"/>
<!-- right inner edge -->
<path class="s" d="M700 330 Q750 420 770 500 L800 602 L790 630 M722 316 Q770 400 790 480 L816 596 M826 592 l-8 34"/>
<!-- arch inner lip -->
<path class="s" d="M596 616 Q570 548 500 528 Q420 506 346 570 Q286 630 262 722 M262 722 L238 742 M250 730 Q270 630 340 560 Q420 496 504 520"/>
<!-- ribs -->
<path class="s" d="M186 640 Q240 470 420 412 L600 362 M202 600 Q262 456 440 402 M260 520 L420 500 Q480 480 520 470 M630 370 Q700 420 740 470 M640 350 Q720 400 750 470"/>
<!-- slot -->
<path class="w" d="M344 462 Q420 440 500 400 Q560 372 590 410 Q602 452 560 466 Q520 472 490 456 L350 472Z" style="stroke-width:1.5"/>
<path class="s" d="M496 420 Q510 390 560 392 M360 468 Q420 452 480 448"/>
<!-- left side -->
<path class="s" d="M172 460 L152 800 M188 480 L178 800 M130 600 L160 590 M140 520 L170 530 M155 446 L190 442 M112 690 Q140 700 150 740"/>
<circle class="s" cx="120" cy="736" r="12"/><circle class="s" cx="210" cy="452" r="10"/>
<path class="w" d="M738 500 q8 -14 24 -8 q16 10 10 28 q-10 14 -26 6 q-14 -10 -8 -26z"/><circle class="s" cx="764" cy="512" r="9"/>
<circle class="s" cx="720" cy="598" r="13"/>
<circle class="s" cx="828" cy="628" r="5"/>
<path class="s" d="M560 308 q10 -20 40 -18 l30 6 M650 340 l20 12 l10 -14"/>
<!-- knob 700 -->
<path class="s" d="M690 226 L630 300"/>
<path class="w" d="M680 110 Q690 70 742 68 Q802 76 812 120 Q810 142 790 152 L736 212 Q720 242 690 240 Q650 230 650 200 Z" style="stroke-width:1.6"/>
<path class="s" d="M684 112 Q740 86 792 146 M692 100 Q748 80 800 134" style="stroke-width:1.3"/>
<ellipse class="s" cx="692" cy="212" rx="24" ry="15" transform="rotate(20 692 212)" style="stroke-width:1.8"/>
<path class="s" d="M654 190 Q680 170 730 200"/>
<text x="805" y="298" font-size="56" class="b" textLength="100" lengthAdjust="spacingAndGlyphs">700</text>
<path class="t" d="M760 210L840 248"/>
<text x="905" y="662" font-size="56" class="b" textLength="66" lengthAdjust="spacingAndGlyphs">20</text>
<text x="1005" y="712" font-size="56" class="b" textLength="70" lengthAdjust="spacingAndGlyphs">85</text>
<path class="t" d="M943 675V765L895 778M1040 725V830M450 740V855"/>
<text x="415" y="912" font-size="56" class="b" textLength="62" lengthAdjust="spacingAndGlyphs">21</text>
<!-- shaft 21 -->
<path class="w" d="M426 682 q4 -14 20 -10 l24 10 l4 8 l76 38 l6 14 l60 30 l-8 18 l-62 -30 l-12 4 l-74 -38 l-2 -10 l-26 -10 q-12 -8 -6 -24z" style="stroke-width:1.6"/>
<path class="s" d="M470 682 q-12 20 -4 40 M474 690 q-10 18 -2 38 M550 728 q-10 16 -6 36 M556 742 q-8 14 -6 28 M590 758 l-8 18 M600 764 l-8 18"/>
<path class="s" d="M612 784 L690 824"/>
</g>

<!-- b0_flange.svg -->
<g transform="translate(520 360) scale(0.20016)">
<!-- axis -->
<path class="s" d="M118 184 L178 212 M500 386 L612 442 M706 490 L768 524 M818 556 L1169 736"/>
<!-- flange 20 -->
<path class="w" d="M190 362 Q148 318 158 258 Q172 168 272 142 Q362 134 400 200 Q420 268 392 322 Z" style="stroke-width:1.6"/>
<path class="s" d="M166 252 Q158 310 196 354 M176 240 Q170 300 204 346"/>
<ellipse class="w" cx="290" cy="276" rx="62" ry="58" transform="rotate(-20 290 276)" style="stroke-width:1.5"/>
<ellipse class="s" cx="286" cy="278" rx="50" ry="47" transform="rotate(-20 286 278)" style="stroke-width:1.4"/>
<ellipse class="s" cx="280" cy="278" rx="38" ry="36" transform="rotate(-20 280 278)" style="stroke-width:1.6"/>
<ellipse class="s" cx="276" cy="276" rx="22" ry="20" style="stroke-width:1.6"/>
<path class="h" d="M320 240 q20 20 10 56 M330 232 q24 24 12 66"/>
<path class="h" d="M272 188 q-6 14 8 20 l60 -6 q12 -10 0 -22 l-56 2 q-10 0 -12 6z M300 186 l20 14 M316 184 l20 14"/>
<circle class="s" cx="232" cy="208" r="7"/><circle class="s" cx="376" cy="208" r="7"/><circle class="s" cx="210" cy="348" r="7"/><circle class="s" cx="372" cy="300" r="7"/>
<path class="s" d="M290 276 L402 332"/>
<!-- screw 45 -->
<ellipse class="w" cx="56" cy="270" rx="16" ry="18" style="stroke-width:1.4"/><ellipse class="s" cx="62" cy="272" rx="10" ry="12"/>
<path class="h" d="M72 278 L126 300 M68 286 L122 308"/>
<path class="s" d="M126 304 L182 332"/>
<text x="42" y="405" font-size="56" class="b" textLength="72" lengthAdjust="spacingAndGlyphs">45</text>
<path class="t" d="M82 318V365M540 225V262M703 208V400M803 268V510M972 352V465M1066 405V515"/>
<!-- plate 85 -->
<path class="w" d="M410 480 Q368 420 396 350 Q432 280 540 265 Q602 270 616 330 Q622 390 600 440 Z" style="stroke-width:1.6"/>
<path class="s" d="M488 358 Q462 330 482 302 Q510 280 536 306 Q548 336 530 358 Q562 380 552 420 Q530 456 480 444 Q444 424 450 390 Q460 364 488 358Z" style="stroke-width:1.6"/>
<path class="s" d="M408 352 q14 -14 26 0 q16 30 6 50 q-14 10 -24 -4 q-14 -26 -8 -46z M568 312 q12 -10 22 4 q10 40 0 74 q-12 10 -22 -2 q-8 -40 0 -76z"/>
<circle class="s" cx="443" cy="318" r="7"/><circle class="s" cx="555" cy="292" r="7"/><circle class="s" cx="592" cy="322" r="6"/><circle class="s" cx="422" cy="460" r="7"/><circle class="s" cx="583" cy="414" r="7"/>
<!-- gear 22 -->
<text x="672" y="195" font-size="56" class="b" textLength="66" lengthAdjust="spacingAndGlyphs">22</text>
<path class="w" d="M676 412 l8 -8 l8 10 l10 -6 l6 12 l12 -4 l4 14 l12 0 l0 14 l12 4 l-4 14 l10 8 l-8 12 l8 10 l-10 10 l4 12 l-12 6 l0 14 l-14 2 l-4 12 l-14 -2 l-8 12 l-12 -6 l-10 8 l-10 -10 l-12 4 l-6 -14 l-12 0 l-2 -14 l-10 -6 l4 -14 l-8 -10 l8 -12 l-4 -12 l10 -8 l0 -14 l12 -4 l2 -14 l14 0 l6 -12 l12 4z" style="stroke-width:1.6"/>
<path class="h" d="M620 430 l16 14 M610 450 l18 10 M604 472 l18 6 M606 494 l18 0 M612 516 l16 -6 M626 534 l12 -10 M640 416 l12 16 M660 410 l6 16"/>
<ellipse class="s" cx="690" cy="482" rx="26" ry="30" style="stroke-width:1.6"/><ellipse class="s" cx="684" cy="484" rx="12" ry="15" style="stroke-width:1.6"/>
<!-- 31 -->
<text x="770" y="255" font-size="56" class="b" textLength="60" lengthAdjust="spacingAndGlyphs">31</text>
<path class="w" d="M766 524 q8 -12 22 -8 l24 10 q12 12 6 26 q-8 12 -22 6 l-24 -10 q-12 -10 -6 -24z" style="stroke-width:1.6"/>
<ellipse class="s" cx="804" cy="544" rx="12" ry="15" style="stroke-width:1.6"/>
<!-- 49 -->
<text x="938" y="340" font-size="56" class="b" textLength="70" lengthAdjust="spacingAndGlyphs">49</text>
<ellipse class="w" cx="956" cy="516" rx="46" ry="46" style="stroke-width:1.4"/>
<ellipse class="w" cx="974" cy="522" rx="36" ry="40" style="stroke-width:1.4"/>
<ellipse class="s" cx="980" cy="524" rx="22" ry="26" style="stroke-width:1.6"/>
<path class="h" d="M980 510 l30 12 l-4 26 l-30 -10"/>
<!-- 48 -->
<text x="1033" y="392" font-size="56" class="b" textLength="70" lengthAdjust="spacingAndGlyphs">48</text>
<ellipse class="w" cx="1058" cy="570" rx="46" ry="42" transform="rotate(20 1058 570)" style="stroke-width:1.4"/>
<ellipse class="w" cx="1062" cy="572" rx="30" ry="26" transform="rotate(20 1062 572)" style="stroke-width:1.4"/>
<path class="h" d="M1040 540 l6 -10 M1056 534 l4 -10 M1072 536 l2 -10"/>
<path class="s" d="M1050 566 L1110 596"/>
<!-- wrench icon -->
<path class="k" d="M588 578 L646 602 L600 676 L530 648 L546 616 L566 622Z"/>
<path class="s" d="M588 578 L602 548 L654 572 L646 602 M530 648 l-4 10 l66 24 l8 -6"/>
</g>

<!-- c0_housing17.svg -->
<g transform="translate(735 440) scale(0.20016)">
<text x="65" y="40" font-size="56" class="b" textLength="60" lengthAdjust="spacingAndGlyphs">14</text>
<text x="145" y="95" font-size="56" class="b" textLength="70" lengthAdjust="spacingAndGlyphs">24</text>
<text x="330" y="185" font-size="56" class="b" textLength="62" lengthAdjust="spacingAndGlyphs">17</text>
<text x="588" y="118" font-size="56" class="b" textLength="72" lengthAdjust="spacingAndGlyphs">84</text>
<path class="t" d="M92 50V165M182 105V215M358 195V290M625 128V150"/>
<!-- axis lines -->
<path class="s" d="M0 290 L256 420 M80 218 L130 240 M160 262 L236 298 V368 L268 386"/>
<!-- bearing 14 -->
<ellipse class="w" cx="70" cy="212" rx="44" ry="42" style="stroke-width:2.4"/>
<ellipse class="s" cx="80" cy="214" rx="30" ry="32" style="stroke-width:2"/>
<ellipse class="s" cx="84" cy="216" rx="14" ry="16" style="stroke-width:1.8"/>
<!-- ring 24 -->
<ellipse class="w" cx="170" cy="266" rx="46" ry="42" transform="rotate(15 170 266)" style="stroke-width:1.6"/>
<ellipse class="w" cx="172" cy="266" rx="36" ry="32" transform="rotate(15 172 266)" style="stroke-width:1.6"/>
<path class="s" d="M160 262 L236 298"/>
<!-- housing 17 body -->
<path class="w" d="M286 320 Q300 304 330 300 L800 195 Q862 200 886 240 L946 420 Q976 520 960 570 Q940 612 880 630 L850 636 L800 700 L560 756 L530 746 L440 716 L300 746 L250 720 L236 696 L200 680 Q176 650 186 616 L226 570 L260 460 L256 440 Z" style="stroke-width:1.6"/>
<path class="s" d="M346 356 L700 272 L800 240 M296 336 Q320 330 346 356 Q360 366 366 374 M740 256 Q880 300 930 430 M720 270 Q860 316 910 440 Q940 520 930 560 M800 195 Q760 230 740 256 M226 570 L290 600 L300 746 M186 616 Q230 640 236 696 M260 460 L300 480 L290 600"/>
<!-- left stub -->
<path class="w" d="M296 370 L364 372 Q382 380 376 402 L356 470 L292 470 L262 450 L286 380 Z" style="stroke-width:1.5"/>
<path class="s" d="M320 376 L300 466 M342 380 L324 468 M286 380 L262 450"/>
<!-- slots -->
<path class="h" d="M346 692 l38 -10 v10 l-38 10z M346 714 l38 -10 v10 l-38 10z M346 736 l38 -10 v8 l-38 10z"/>
<path class="k" d="M262 706 l20 -20 l4 30z"/>
<!-- gear box boss -->
<path class="w" d="M440 480 Q446 450 480 440 L740 380 Q780 378 792 400 L852 470 L860 620 L800 700 L560 756 L530 746 L446 700 Q436 600 440 480Z" style="stroke-width:1.6"/>
<path class="s" d="M456 470 Q480 440 560 424 L760 384 M460 490 L548 524 M446 700 L460 490"/>
<path class="w" d="M548 524 Q552 510 570 506 L820 454 Q846 452 850 474 L856 616 L804 692 L566 746 Q550 740 548 720 Z" style="stroke-width:1.8"/>
<path class="s" d="M560 534 L826 470 L840 610 L800 680 L574 732 Z"/>
<!-- ribs -->
<path class="h" d="M566 530 L650 570 M740 490 L700 560 M570 736 L650 620 M830 660 L720 610 M760 500 L780 600 M826 470 L760 500 M600 540 l20 60 M580 600 l40 -10"/>
<ellipse class="w" cx="682" cy="590" rx="52" ry="44" transform="rotate(-15 682 590)" style="stroke-width:2.2"/>
<ellipse class="s" cx="680" cy="592" rx="32" ry="28" transform="rotate(-15 680 592)" style="stroke-width:2.2"/>
<ellipse class="h" cx="678" cy="592" rx="16" ry="14"/>
<circle class="s" cx="566" cy="524" r="9"/><circle class="s" cx="832" cy="470" r="9"/><circle class="s" cx="560" cy="736" r="10"/>
<path class="s" d="M620 680 q30 -30 60 -20 q30 10 40 40 M600 590 l30 10 M610 560 l24 12"/>
<!-- 84 plate and leader -->
<path class="w" d="M622 158 L692 150 Q708 156 706 170 L636 184 Q614 178 622 158Z" style="stroke-width:1.5"/>
<path class="t" d="M658 185V430"/>
<!-- dashed line and circle -->
<path class="t" d="M875 495V960" stroke-dasharray="5 2"/>
<path class="s" d="M875 495 h14"/>
<ellipse class="s" cx="900" cy="548" rx="10" ry="13" transform="rotate(30 900 548)"/>
<!-- axis to armature -->
<path class="s" d="M690 596 L950 736" style="stroke-width:1.6"/>
<!-- 3/50 -->
<text x="995" y="680" font-size="56" class="b" textLength="125" lengthAdjust="spacingAndGlyphs">3/50</text>
</g>

<!-- d0_armature.svg -->
<g transform="translate(910 530) scale(0.20016)">
<text x="485" y="100" font-size="56" class="b" textLength="100" lengthAdjust="spacingAndGlyphs">830</text>
<path class="h" d="M333 130V62L725 268V320M535 110V162M185 270V130L452 268V390M333 165V205" style="stroke-width:1.8"/>
<text x="320" y="158" font-size="44" class="b" textLength="30" lengthAdjust="spacingAndGlyphs">3</text>
<path class="s" d="M312 122 L364 158 M364 122 L312 158"/>
<text x="693" y="368" font-size="56" class="b" textLength="66" lengthAdjust="spacingAndGlyphs">13</text>
<path class="t" d="M725 380V590"/>
<!-- axis -->
<path class="s" d="M0 256 L70 290 M650 596 L686 616 M745 646 L1086 816"/>
<!-- shaft spline -->
<path class="w" d="M70 282 l14 -6 l44 24 l-4 20 l-46 -22z" style="stroke-width:1.6"/>
<path class="h" d="M78 290 l40 22 M84 282 l40 22"/>
<!-- fan -->
<ellipse class="w" cx="222" cy="374" rx="96" ry="110" transform="rotate(-10 222 374)" style="stroke-width:1.8"/>
<g fill="none" stroke="#111" stroke-width="2.2" stroke-linecap="round"><path d="M222 374 L160 292 M222 374 L182 276 M222 374 L208 268 M222 374 L236 266 M222 374 L264 272 M222 374 L290 288 M222 374 L312 314 M222 374 L322 344 M222 374 L140 320 M222 374 L128 354 M222 374 L124 390 M222 374 L130 424 M222 374 L148 454 M222 374 L172 474 M222 374 L200 484 M222 374 L232 482"/></g>
<path class="k" d="M160 292 Q200 260 260 268 Q310 286 324 340 L260 350 L222 330 L190 330Z"/>
<g fill="none" stroke="#fff" stroke-width="0.9"><path d="M200 326 L186 280 M218 326 L212 270 M236 328 L240 270 M254 336 L270 276 M270 344 L296 296"/></g>
<ellipse class="w" cx="222" cy="376" rx="30" ry="40" style="stroke-width:1.8"/>
<!-- body -->
<path class="w" d="M264 380 Q270 356 300 360 L450 424 Q500 440 506 470 L510 500 Q500 560 440 560 L420 556 L270 470 Q256 430 264 380Z" style="stroke-width:1.8"/>
<path class="s" d="M300 360 Q276 410 290 480 M430 424 Q396 480 424 556 M452 426 Q420 480 442 560" style="stroke-width:1.6"/>
<g class="s" style="stroke-width:1.5"><path d="M296 386 L420 448 M292 406 L412 468 M290 426 L410 488 M290 446 L410 508 M292 462 L414 528 M300 372 L428 434 M300 480 L420 544"/></g>
<ellipse class="w" cx="236" cy="372" rx="22" ry="34" style="stroke-width:1.6"/>
<path class="s" d="M240 340 L270 356 M240 406 L268 420"/>
<!-- commutator -->
<path class="w" d="M470 478 L560 500 L580 520 L590 600 L560 610 L480 580 Q450 540 470 478Z" style="stroke-width:2"/>
<g class="h"><path d="M480 486 q-14 40 6 90 M496 490 q-12 40 6 94 M512 494 q-12 40 6 96 M528 498 q-10 40 6 100 M544 502 q-10 40 6 100 M470 478 q20 -14 50 -8 l40 20"/></g>
<ellipse class="w" cx="602" cy="564" rx="46" ry="52" transform="rotate(-15 602 564)" style="stroke-width:2"/>
<ellipse class="s" cx="606" cy="568" rx="30" ry="36" transform="rotate(-15 606 568)" style="stroke-width:1.8"/>
<ellipse class="h" cx="610" cy="572" rx="12" ry="15"/>
<path class="h" d="M620 574 l22 10"/>
<!-- bearing 13 -->
<ellipse class="w" cx="714" cy="628" rx="36" ry="33" style="stroke-width:2.4"/>
<ellipse class="s" cx="722" cy="630" rx="22" ry="22" style="stroke-width:2"/>
<ellipse class="h" cx="726" cy="632" rx="10" ry="11"/>
<!-- icon -->
<path class="k" d="M640 690 L716 718 L690 766 L610 726Z"/>
<path class="s" d="M640 690 L658 656 L722 684 L716 718"/>
<path d="M640 712 l20 8 M664 730 l16 -8 l-4 16" stroke="#fff" stroke-width="0.9" fill="none"/>
</g>

<!-- e0_knife.svg -->
<g transform="translate(780 575) scale(0.20016)">
<!-- bolt 60 -->
<path class="w" d="M340 128 q6 -14 22 -10 l14 10 l44 24 l-6 14 l-44 -22 q-10 14 -24 6 q-12 -10 -6 -22z" style="stroke-width:1.7"/>
<path class="s" d="M376 128 q-10 10 -6 24"/>
<text x="240" y="205" font-size="56" class="b" textLength="70" lengthAdjust="spacingAndGlyphs">60</text>
<text x="240" y="272" font-size="56" class="b" textLength="60" lengthAdjust="spacingAndGlyphs">61</text>
<text x="240" y="362" font-size="56" class="b" textLength="66" lengthAdjust="spacingAndGlyphs">32</text>
<path class="t" d="M318 185L366 175M315 245L425 215M318 340L500 295"/>
<!-- washer 61 -->
<ellipse class="w" cx="460" cy="190" rx="33" ry="30" style="stroke-width:1.7"/><ellipse class="s" cx="462" cy="192" rx="10" ry="10" style="stroke-width:1.6"/>
<path class="s" d="M490 206 L520 220 M590 266 L642 286"/>
<!-- knife 32 -->
<path class="w" d="M530 150 L576 145 L606 186 L610 300 Q600 420 500 520 Q440 580 366 600 L358 586 Q440 520 470 440 L486 350 L520 340 L520 220 Z" style="stroke-width:1.6"/>
<path class="s" d="M544 162 L538 340 L500 350 Q490 450 440 520 Q400 570 366 590"/>
<path class="s" d="M562 178 q6 -8 16 -2 l14 12 q4 10 -6 12 q-14 -4 -24 -14z M556 238 q6 -8 16 -2 l16 20 q2 10 -8 10 q-16 -8 -24 -28z" style="stroke-width:1.6"/>
</g>

<!-- f0_base.svg -->
<g transform="translate(480 530) scale(0.20016)">
<!-- base plate -->
<path class="w" d="M58 556 Q52 544 72 538 L170 490 L900 346 L1030 420 L1204 512 Q1214 520 1210 540 L1204 548 L420 744 L400 752 L350 742 L62 586 Z" style="stroke-width:1.6"/>
<path class="s" d="M58 556 L350 712 L400 716 L1206 520 M96 560 L176 512 L880 368 L1150 508 L420 696 L352 700 Z M1030 420 L1168 500 M350 712 L350 742 M400 716 L400 752"/>
<path class="h" d="M400 730 L450 718 M400 740 L452 728"/>
<!-- grooves -->
<path class="s" d="M270 500 L860 376 M282 520 L880 394 M300 540 L420 548 L716 482 L740 490 L930 450 M440 576 L900 482 M470 640 L900 520 L906 536 L482 656 Z M500 672 L1100 510 L1108 522 L512 686 M560 540 L700 508"/>
<path class="h" d="M280 508 L870 384"/>
<!-- left mechanism -->
<path class="h" d="M164 500 q20 -30 60 -20 l20 30 l-10 40 M180 520 l50 30 l20 60 M200 480 l10 60 l40 30 M150 580 l100 50 l60 -10 M230 560 l60 40 M300 560 l60 -10 l10 50 M340 540 l0 70 M380 560 l10 80 M330 620 l60 30 l60 -10 l60 20 l-80 20 l-60 -20 M400 600 l30 -20 M260 620 l40 20 M180 600 l60 30"/>
<circle class="s" cx="380" cy="690" r="6"/><circle class="s" cx="340" cy="664" r="6"/><circle class="s" cx="458" cy="656" r="5"/><circle class="s" cx="420" cy="640" r="5"/>
<path class="k" d="M275 540 L345 550 L345 580 L305 572Z M228 520 l16 4 l-2 24 l-14 -6z M345 600 l14 4 l0 20 l-14 -4z M300 640 l40 -6 l10 10 l-40 8z"/>
<path class="h" d="M170 500 Q176 480 206 482 Q236 486 246 502 M346 546 L394 540 L396 620 M360 556 V610 M376 552 V616 M386 622 L470 600 L506 650 L420 674 Z M196 520 q10 50 40 90 M216 500 q0 40 30 70"/>
<!-- bracket 58 -->
<path class="w" d="M365 346 L365 250 Q376 190 400 188 Q440 200 466 290 L476 340 L510 372 L510 400 L446 416 L440 390 L370 370 Z" style="stroke-width:1.6"/>
<path class="s" d="M386 332 L386 250 Q396 214 410 220 Q426 236 436 300 L440 390 M400 330 L400 250 Q406 232 414 240 M365 346 L440 366 L476 340 M446 416 L446 390 M412 340 v10"/>
<path class="t" d="M420 260 h10 M422 276 h10 M424 292 h10 M426 308 h10 M428 324 h10 M428 340 h10"/>
<path class="s" d="M336 356 L365 346 M336 356 L400 580 M436 416 L436 640 M270 470 L270 620"/>
<text x="200" y="262" font-size="56" class="b" textLength="70" lengthAdjust="spacingAndGlyphs">58</text>
<text x="200" y="330" font-size="56" class="b" textLength="68" lengthAdjust="spacingAndGlyphs">35</text>
<text x="540" y="205" font-size="56" class="b" textLength="66" lengthAdjust="spacingAndGlyphs">38</text>
<text x="712" y="165" font-size="56" class="b" textLength="66" lengthAdjust="spacingAndGlyphs">47</text>
<text x="972" y="180" font-size="56" class="b" textLength="68" lengthAdjust="spacingAndGlyphs">55</text>
<text x="1060" y="160" font-size="56" class="b" textLength="66" lengthAdjust="spacingAndGlyphs">37</text>
<text x="1285" y="389" font-size="56" class="b" textLength="64" lengthAdjust="spacingAndGlyphs">37</text>
<text x="1284" y="449" font-size="56" class="b" textLength="68" lengthAdjust="spacingAndGlyphs">55</text>
<text x="748" y="760" font-size="56" class="b" textLength="62" lengthAdjust="spacingAndGlyphs">19</text>
<text x="50" y="824" font-size="56" class="b" textLength="68" lengthAdjust="spacingAndGlyphs">37</text>
<text x="535" y="824" font-size="56" class="b" textLength="70" lengthAdjust="spacingAndGlyphs">59</text>
<path class="t" d="M280 240L360 226M235 340V395M572 215V255M745 175V215M1005 192V255M1090 172V205M778 670V715M82 735V775M470 815L525 805M1228 388L1274 378M1132 412L1208 450L1274 440"/>
<path class="s" d="M700 310V225L808 205V250"/>
<!-- knob 35 -->
<path class="w" d="M224 408 q40 -16 96 -12 l6 24 l-36 20 l-50 -4 l-20 -10z" style="stroke-width:1.7"/>
<path class="s" d="M258 398 q6 16 -2 38 M290 396 q6 18 0 42"/>
<path class="h" d="M262 446 h16 M262 454 h16 M262 462 h16 M262 470 h16"/>
<!-- bolt 38 -->
<ellipse class="w" cx="584" cy="284" rx="24" ry="26" style="stroke-width:1.8"/><ellipse class="s" cx="578" cy="284" rx="14" ry="20"/>
<path class="h" d="M494 308 L562 290 M496 318 L562 300"/>
<path class="t" d="M500 304 l4 14 M512 300 l4 14 M524 298 l4 14 M536 294 l4 14 M548 292 l4 14"/>
<path class="s" d="M476 322 L494 314"/>
<!-- bolts 47 -->
<ellipse class="w" cx="784" cy="270" rx="24" ry="26" style="stroke-width:1.8"/>
<path class="w" d="M806 258 L860 246 L864 268 L808 282Z" style="stroke-width:1.6"/>
<path class="t" d="M822 254 l4 22 M834 252 l4 20 M846 248 l4 20"/>
<ellipse class="w" cx="680" cy="346" rx="24" ry="26" style="stroke-width:1.8"/>
<path class="w" d="M702 334 L760 320 L764 342 L704 358Z" style="stroke-width:1.6"/>
<path class="t" d="M718 330 l4 22 M730 326 l4 22 M744 324 l4 20"/>
<path class="s" d="M862 260 L886 262 V306 L912 312 M762 328 L830 316 V440 L962 440"/>
<!-- curved guide -->
<path class="w" d="M820 75 Q880 150 906 300 L916 380 L950 382 Q946 250 900 150 Q870 95 830 72 Z" style="stroke-width:1.7"/>
<path class="s" d="M836 90 Q896 170 924 300 L932 376 M850 110 Q906 190 936 320" style="stroke-width:1"/>
<path class="t" d="M856 120 l14 -8 M868 140 l14 -8 M878 160 l14 -8 M888 182 l14 -8 M896 204 l14 -6 M904 228 l14 -6 M910 252 l14 -4 M914 276 l14 -4 M918 300 l14 -2 M920 324 l14 -2"/>
<!-- right bracket -->
<ellipse class="w" cx="974" cy="392" rx="30" ry="56" transform="rotate(-15 974 392)" style="stroke-width:1.8"/>
<ellipse class="s" cx="978" cy="394" rx="18" ry="40" transform="rotate(-15 978 394)" style="stroke-width:1.6"/>
<ellipse class="w" cx="1012" cy="420" rx="13" ry="46" transform="rotate(-10 1012 420)" style="stroke-width:1.8"/>
<path class="w" d="M930 482 L1000 470 L1002 494 L952 504Z" style="stroke-width:1.6"/>
<path class="h" d="M910 380 l40 20 l-10 30 l30 10 M920 400 l30 30"/>
<!-- bushings 55 -->
<path class="w" d="M986 268 q6 -12 20 -8 l28 8 q10 10 6 26 q-8 12 -22 8 l-26 -8 q-10 -10 -6 -26z" style="stroke-width:1.7"/>
<ellipse class="s" cx="996" cy="284" rx="10" ry="14"/>
<path class="w" d="M1086 360 q6 -12 20 -8 l28 8 q10 10 6 26 q-8 12 -22 8 l-26 -8 q-10 -10 -6 -26z" style="stroke-width:1.7"/>
<ellipse class="s" cx="1096" cy="376" rx="10" ry="14"/>
<path class="s" d="M960 296 L986 290 M1042 286 L1070 276 M1030 396 L1086 380 M1142 384 L1168 376"/>
<!-- knobs 37 -->
<path class="w" d="M1074 236 q-4 -16 10 -24 l24 -4 q14 4 18 20 l10 30 q0 14 -12 16 l-4 28 q-14 10 -30 4 l-6 -28 q-12 -6 -12 -20z" style="stroke-width:1.7"/>
<path class="s" d="M1088 214 q4 30 2 62 M1110 210 q10 30 12 62 M1084 276 q20 8 40 -2"/>
<path class="w" d="M1180 326 q-4 -16 10 -24 l24 -4 q14 4 18 20 l10 30 q0 14 -12 16 l-4 28 q-14 10 -30 4 l-6 -28 q-12 -6 -12 -20z" style="stroke-width:1.7"/>
<path class="s" d="M1194 304 q4 30 2 62 M1216 300 q10 30 12 62 M1190 366 q20 8 40 -2"/>
<path class="w" d="M42 636 q-4 -14 10 -20 l24 0 q14 6 16 22 l8 28 q-2 14 -14 14 l-2 30 q-14 10 -30 2 l-4 -30 q-10 -8 -10 -22z" style="stroke-width:1.7"/>
<path class="s" d="M56 618 q4 30 0 64 M78 620 q8 30 6 60 M50 684 q20 8 36 -2 M100 662 L262 640"/>
<!-- screw 59 -->
<path class="h" d="M426 762 h16 M424 772 h20 M426 782 h18 M428 792 h14 M434 752 V800"/>
<ellipse class="w" cx="434" cy="812" rx="22" ry="12" style="stroke-width:1.8"/>
</g>

<!-- g0_guide650.svg -->
<g transform="translate(340 510) scale(0.20016)">
<path class="w" d="M130 386 Q140 350 186 326 L670 242 L724 250 L730 270 L730 346 L706 360 L150 500 L130 490 Z" style="stroke-width:1.5"/>
<path class="s" d="M150 408 L700 276 L730 270 M150 420 L704 290 M200 346 L690 258 L724 262 M150 500 V408 L130 386 M186 326 L206 342 M140 410 L140 486 M130 404 l8 6 M704 290 L706 360"/>
<path class="w" d="M195 330 L235 312 L790 600 L786 612 L740 622 L195 346 Z" style="stroke-width:1.5"/>
<path class="s" d="M195 338 L742 612 L786 604"/>
<path class="t" d="M280 352 l8 -6 M300 362 l8 -6 M320 372 l8 -6 M340 382 l12 -8 M360 392 l8 -6 M380 402 l8 -6 M400 412 l8 -6 M420 422 l8 -6 M440 432 l12 -8 M460 442 l8 -6 M480 452 l8 -6 M500 462 l8 -6 M520 472 l8 -6 M540 482 l12 -8 M560 492 l8 -6 M580 502 l8 -6 M600 512 l8 -6 M620 522 l8 -6 M640 532 l12 -8 M660 542 l8 -6 M680 552 l8 -6 M700 562 l8 -6"/>
<text x="310" y="575" font-size="56" class="b" textLength="104" lengthAdjust="spacingAndGlyphs">650</text>
<path class="t" d="M365 465V530"/>
<text x="190" y="55" font-size="45" class="b">5</text><text x="230" y="55" font-size="45" class="b" textLength="62" lengthAdjust="spacingAndGlyphs">mm</text>
<text x="190" y="92" font-size="45" class="b" textLength="224" lengthAdjust="spacingAndGlyphs">aufbohren</text>
<path class="s" d="M100 120 L138 68"/><path class="k" d="M142 60 l-14 14 l10 6z"/>
</g>

<!-- h0_old878.svg -->
<g transform="translate(80 440) scale(0.20016)">
<!-- parts -->
<ellipse class="w" cx="100" cy="96" rx="22" ry="26" style="stroke-width:1.5"/><path class="s" d="M112 78 q16 10 20 26 M122 100 l26 12"/>
<ellipse class="w" cx="208" cy="142" rx="40" ry="34" style="stroke-width:1.5"/><ellipse class="s" cx="210" cy="148" rx="10" ry="12"/>
<path class="s" d="M176 156 q10 20 30 22"/>
<ellipse class="w" cx="362" cy="232" rx="38" ry="40" style="stroke-width:2"/><ellipse class="s" cx="366" cy="232" rx="22" ry="26" style="stroke-width:1.8"/><ellipse class="s" cx="360" cy="234" rx="8" ry="14"/>
<path class="s" d="M222 152 L330 210 M382 240 L430 262"/>
<path class="w" d="M420 254 l20 -4 l8 24 l-20 6z" style="stroke-width:1.5"/>
<ellipse class="w" cx="466" cy="282" rx="26" ry="28" style="stroke-width:1.6"/>
<path class="t" d="M450 262 q-8 20 4 42"/>
<!-- X -->
<path d="M85 70 L475 420 M470 85 L100 415" fill="none" stroke="#111" stroke-width="2.2" stroke-linecap="round"/>
<!-- labels -->
<text x="78" y="222" font-size="56" class="b" textLength="68" lengthAdjust="spacingAndGlyphs">79</text>
<text x="175" y="275" font-size="56" class="b" textLength="66" lengthAdjust="spacingAndGlyphs">78</text>
<text x="300" y="345" font-size="56" class="b" textLength="66" lengthAdjust="spacingAndGlyphs">78</text>
<text x="400" y="395" font-size="56" class="b" textLength="66" lengthAdjust="spacingAndGlyphs">79</text>
<text x="210" y="475" font-size="56" class="b" textLength="106" lengthAdjust="spacingAndGlyphs">878</text>
<path class="t" d="M110 130V175M205 178V232M333 270V300M435 310V350" stroke-dasharray="3 1.500"/>
<path class="s" d="M110 230V280L435 450V400M205 285V330M333 350V396"/>
<path class="h" d="M260 365V425"/>
<text x="82" y="535" font-size="41" class="b" textLength="353" lengthAdjust="spacingAndGlyphs">Alte Ausführung</text>
<text x="82" y="580" font-size="41" class="b" textLength="308" lengthAdjust="spacingAndGlyphs">Old Execution</text>
<text x="82" y="625" font-size="41" class="b" textLength="380" lengthAdjust="spacingAndGlyphs">Ancien Exécution</text>
<text x="82" y="670" font-size="41" class="b" textLength="330" lengthAdjust="spacingAndGlyphs">Vieja Ejecución</text>
<!-- block arrow -->
<path d="M625 240 L665 240 L665 200 L745 305 L665 410 L665 375 L625 375 Z" fill="#fff" stroke="#111" stroke-width="2.2" stroke-linejoin="miter"/>
</g>
<g transform="translate(230 440) scale(0.20016)">
<!-- X mark -->
<path d="M150 158 L236 196 M212 134 L162 214" stroke="#111" stroke-width="3.2" fill="none"/>
<ellipse class="k" cx="228" cy="190" rx="14" ry="12"/>
<!-- bolt -->
<path class="w" d="M100 232 q8 -10 22 -2 l14 8 q20 -8 36 6 q12 14 4 30 q-18 14 -40 0 q-10 -10 -8 -22 l-20 -8 q-12 -4 -8 -12z" style="stroke-width:1.6"/>
<path class="h" d="M146 256 q14 -8 24 4 M150 268 l20 -6"/>
<!-- washers -->
<ellipse class="w" cx="270" cy="318" rx="38" ry="38" style="stroke-width:1.7"/><ellipse class="s" cx="272" cy="322" rx="14" ry="16" style="stroke-width:1.6"/>
<ellipse class="w" cx="400" cy="388" rx="38" ry="38" style="stroke-width:2.2"/><ellipse class="s" cx="404" cy="388" rx="22" ry="24" style="stroke-width:2" transform="rotate(-30 404 388)"/>
<path class="s" d="M180 268 L234 298 M286 328 L366 370 M420 398 L476 428"/>
<path class="w" d="M476 430 q10 -14 30 -12 q28 4 36 28 q-2 20 -20 26 q-26 2 -38 -18 q-6 -12 -8 -24z" style="stroke-width:1.6"/>
<path class="s" d="M520 450 l22 8 M516 462 l20 10"/>
<!-- labels -->
<text x="50" y="388" font-size="56" class="b" textLength="168" lengthAdjust="spacingAndGlyphs">79/10</text>
<text x="180" y="452" font-size="56" class="b" textLength="166" lengthAdjust="spacingAndGlyphs">78/10</text>
<text x="292" y="510" font-size="56" class="b" textLength="166" lengthAdjust="spacingAndGlyphs">78/10</text>
<text x="425" y="572" font-size="56" class="b" textLength="166" lengthAdjust="spacingAndGlyphs">79/10</text>
<text x="235" y="664" font-size="56" class="b" textLength="158" lengthAdjust="spacingAndGlyphs">878/1</text>
<path class="t" d="M130 290V340M258 370V410M380 432V460M512 488V528" stroke-dasharray="3 1.500"/>
<path class="h" d="M128 395V465L510 664V588M258 460V530M380 520V592M310 565V615"/>
<!-- 29 Aluminium -->
<text x="590" y="228" font-size="56" class="b" textLength="68" lengthAdjust="spacingAndGlyphs">29</text>
<text x="672" y="226" font-size="46" class="b" textLength="312" lengthAdjust="spacingAndGlyphs">(Aluminium)</text>
<path class="t" d="M490 208 q20 -20 40 -14 M520 200 L580 204"/>
<path class="s" d="M435 120 L380 220 Q376 244 400 256 L440 274 M468 120 L420 226 M500 122 L456 226"/>
<ellipse class="w" cx="462" cy="248" rx="30" ry="26" style="stroke-width:1.6"/><ellipse class="s" cx="464" cy="248" rx="20" ry="17" style="stroke-width:1.6"/><ellipse class="h" cx="466" cy="248" rx="10" ry="9"/>
<!-- drill -->
<path class="w" d="M500 280 q10 -14 30 -6 l160 88 l30 14 l-14 16 l-20 -8 l-170 -84 q-16 -8 -16 -20z" style="stroke-width:1.7"/>
<path class="h" d="M520 276 q20 20 10 34 M560 296 q30 10 20 44 M600 320 q30 10 22 42 M640 340 q30 10 24 40 M680 360 q20 10 20 30 M540 300 q20 -20 50 0 M590 326 q16 -20 46 0 M636 350 q16 -16 40 0"/>
<path class="s" d="M762 296 L724 356 M652 466 L690 410"/>
<path class="k" d="M720 362 l2 -16 l10 8z M694 404 l-2 16 l-10 -8z"/>
</g>

<!-- i0_820.svg -->
<g transform="translate(70 615) scale(0.20016)">
<path class="h" d="M180 60V25L805 350V395M348 115V150M490 145V185M585 240V275" style="stroke-width:1.4"/>
<text x="150" y="118" font-size="56" class="b" textLength="70" lengthAdjust="spacingAndGlyphs">86</text>
<path class="h" d="M146 80 L224 116 M224 80 L146 116 M146 98 H224"/>
<path class="t" d="M180 130V220M348 210V260M805 455V510"/>
<path class="t" d="M585 335V390" stroke-dasharray="3 1.500"/>
<ellipse class="w" cx="180" cy="310" rx="70" ry="74" transform="rotate(12 180 310)" style="stroke-width:1.6"/>
<ellipse class="w" cx="184" cy="312" rx="58" ry="62" transform="rotate(12 184 312)" style="stroke-width:1.6"/>
<path class="h" d="M156 250 l4 -10 M172 246 l2 -10 M188 246 l0 -10 M202 250 l2 -8"/>
<path class="s" d="M184 310 L242 332"/>
<text x="315" y="200" font-size="56" class="b" textLength="70" lengthAdjust="spacingAndGlyphs">45</text>
<path class="t" d="M294 292L300 272L386 260L392 282"/>
<text x="440" y="138" font-size="56" class="b" textLength="110" lengthAdjust="spacingAndGlyphs">820</text>
<text x="548" y="322" font-size="56" class="b" textLength="70" lengthAdjust="spacingAndGlyphs">20</text>
<!-- screws -->
<defs><g id="scr"><ellipse class="w" cx="0" cy="0" rx="15" ry="17" style="stroke-width:1.4"/><ellipse class="s" cx="5" cy="2" rx="10" ry="12"/><path class="h" d="M14 6 L72 34 M10 14 L66 42"/><path class="t" d="M24 10l-4 12M34 15l-4 12M44 20l-4 12M54 25l-4 12M64 30l-4 12"/></g></defs>
<use href="#scr" x="300" y="325"/><use href="#scr" x="390" y="300"/><use href="#scr" x="385" y="405"/><use href="#scr" x="295" y="490"/>
<path class="t" d="M372 362L500 430M462 340L560 395M458 442L492 456M368 528L470 576"/>
<!-- flange 20 -->
<path class="w" d="M500 610 Q454 560 470 490 Q500 410 590 395 Q682 400 710 470 Q716 530 690 575 Z" style="stroke-width:1.6"/>
<path class="s" d="M480 486 Q468 552 508 600"/>
<ellipse class="w" cx="600" cy="530" rx="62" ry="58" transform="rotate(-20 600 530)" style="stroke-width:1.5"/>
<ellipse class="s" cx="596" cy="532" rx="50" ry="46" transform="rotate(-20 596 532)" style="stroke-width:1.4"/>
<ellipse class="s" cx="590" cy="532" rx="36" ry="34" transform="rotate(-20 590 532)" style="stroke-width:1.4"/>
<ellipse class="s" cx="584" cy="530" rx="20" ry="19" style="stroke-width:1.6"/>
<path class="h" d="M630 490 q22 24 10 60 M580 440 q-6 12 8 18 l54 -4 q10 -10 0 -20 l-50 0 q-10 0 -12 6z M610 438 l16 14"/>
<circle class="s" cx="536" cy="456" r="7"/><circle class="s" cx="680" cy="460" r="7"/><circle class="s" cx="516" cy="598" r="7"/><circle class="s" cx="672" cy="556" r="7"/>
<path class="t" d="M520 450 l20 16 M524 466 l16 -14"/>
<!-- 85 crossed -->
<text x="770" y="440" font-size="56" class="b" textLength="74" lengthAdjust="spacingAndGlyphs">85</text>
<path class="h" d="M766 402 L848 438 M848 402 L766 438 M766 420 H848"/>
<path class="w" d="M725 725 Q680 680 700 610 Q730 540 830 520 Q902 526 920 580 Q926 640 905 690 Z" style="stroke-width:1.6"/>
<path class="s" d="M790 604 Q764 578 784 550 Q812 528 838 554 Q850 582 832 604 Q864 626 854 666 Q832 702 782 690 Q746 670 752 636 Q762 610 790 604Z" style="stroke-width:1.6"/>
<path class="s" d="M716 604 q12 -14 24 0 q10 30 2 64 q-12 10 -22 -2 q-12 -30 -4 -62z M876 570 q12 -10 22 4 q10 34 0 64 q-12 10 -22 -2 q-8 -34 0 -66z"/>
<circle class="s" cx="750" cy="570" r="7"/><circle class="s" cx="862" cy="544" r="7"/><circle class="s" cx="896" cy="572" r="6"/><circle class="s" cx="730" cy="712" r="7"/><circle class="s" cx="888" cy="672" r="7"/>
<text x="105" y="678" font-size="41" class="b" textLength="380" lengthAdjust="spacingAndGlyphs">Neue Ausführung</text>
<text x="105" y="723" font-size="41" class="b" textLength="325" lengthAdjust="spacingAndGlyphs">New Execution</text>
<text x="105" y="768" font-size="41" class="b" textLength="420" lengthAdjust="spacingAndGlyphs">Nouvelle Exécution</text>
<text x="105" y="813" font-size="41" class="b" textLength="363" lengthAdjust="spacingAndGlyphs">Nueva Ejecución</text>
</g>
<g transform="translate(260 615) scale(0.20016)">
<text x="178" y="88" font-size="56" class="b" textLength="107" lengthAdjust="spacingAndGlyphs">840</text>
<path class="h" d="M143 140V110L305 190V230M232 98V140" style="stroke-width:1.4"/>
<text x="108" y="190" font-size="56" class="b" textLength="68" lengthAdjust="spacingAndGlyphs">44</text>
<path class="t" d="M143 200V235M92 320V215L198 268V300M310 295V345M445 295V440M575 360V445M528 505V465L575 445L625 440L628 480M762 455V540"/>
<text x="275" y="282" font-size="56" class="b" textLength="70" lengthAdjust="spacingAndGlyphs">40</text>
<text x="392" y="228" font-size="56" class="b" textLength="106" lengthAdjust="spacingAndGlyphs">839</text>
<text x="410" y="282" font-size="56" class="b" textLength="70" lengthAdjust="spacingAndGlyphs">39</text>
<text x="540" y="348" font-size="56" class="b" textLength="68" lengthAdjust="spacingAndGlyphs">45</text>
<text x="728" y="445" font-size="56" class="b" textLength="68" lengthAdjust="spacingAndGlyphs">20</text>
<!-- screws 44 -->
<defs><g id="scb"><ellipse class="w" cx="0" cy="0" rx="15" ry="17" style="stroke-width:1.4"/><ellipse class="s" cx="5" cy="2" rx="10" ry="12"/><path class="w" d="M14 -2 L50 16 L44 32 L8 14Z" style="stroke-width:1.6"/></g></defs>
<use href="#scb" x="82" y="352"/><use href="#scb" x="190" y="322"/>
<path class="t" d="M130 380L226 426M236 352L262 366"/>
<!-- disc 40 -->
<ellipse class="w" cx="305" cy="425" rx="78" ry="75" transform="rotate(-20 305 425)" style="stroke-width:1.6"/>
<ellipse class="s" cx="300" cy="430" rx="24" ry="28" transform="rotate(20 300 430)" style="stroke-width:1.6"/>
<circle class="h" cx="250" cy="442" r="5"/><circle class="h" cx="354" cy="410" r="5"/>
<path class="s" d="M312 432 L386 470 M356 412 L384 428 M470 510 L496 522"/>
<!-- bearing 39 -->
<ellipse class="w" cx="424" cy="490" rx="52" ry="48" transform="rotate(-15 424 490)" style="stroke-width:1.7"/>
<ellipse class="s" cx="430" cy="492" rx="40" ry="38" transform="rotate(-15 430 492)" style="stroke-width:1.5"/>
<ellipse class="s" cx="436" cy="494" rx="26" ry="26" style="stroke-width:1.4"/>
<ellipse class="h" cx="440" cy="496" rx="12" ry="13"/>
<!-- icon -->
<path class="k" d="M336 560 L410 590 L370 630 L306 594Z"/>
<path class="s" d="M336 560 L352 526 L416 556 L410 590"/>
<ellipse cx="356" cy="590" rx="16" ry="12" fill="none" stroke="#fff" stroke-width="0.9"/>
<!-- screws 45 -->
<use href="#scr" x="512" y="528"/><use href="#scr" x="622" y="494"/><use href="#scr" x="508" y="652"/>
<path class="t" d="M584 572L652 612M580 690L672 742M650 570L692 546L716 552M650 570L700 580"/>
<!-- flange 20 old -->
<path class="w" d="M670 750 Q630 700 646 640 Q670 570 760 545 Q852 550 880 620 Q886 680 860 720 Z" style="stroke-width:1.6"/>
<path class="h" d="M786 586 l44 16 l-4 8 l-44 -16z"/>
<ellipse class="s" cx="756" cy="666" rx="22" ry="24" style="stroke-width:1.6"/>
<path class="s" d="M756 666 L790 650 M756 672 L786 690"/>
<circle class="h" cx="706" cy="602" r="5"/><circle class="h" cx="806" cy="656" r="5"/><circle class="h" cx="710" cy="682" r="5"/><circle class="h" cx="846" cy="706" r="6"/><circle class="h" cx="686" cy="740" r="6"/>
<text x="72" y="678" font-size="41" class="b" textLength="348" lengthAdjust="spacingAndGlyphs">Alte Ausführung</text>
<text x="72" y="723" font-size="41" class="b" textLength="303" lengthAdjust="spacingAndGlyphs">Old Execution</text>
<text x="72" y="768" font-size="41" class="b" textLength="376" lengthAdjust="spacingAndGlyphs">Ancien Exécution</text>
<text x="72" y="813" font-size="41" class="b" textLength="328" lengthAdjust="spacingAndGlyphs">Vieja Ejecución</text>
</g>

<!-- j0_circuit.svg -->
<g transform="translate(660 695) scale(0.23952)">
<defs>
<g id="ckt">
<circle class="s" cx="127" cy="193" r="38" style="stroke-width:1.5"/>
<text x="112" y="204" font-size="30" class="b" textLength="30" lengthAdjust="spacingAndGlyphs">M</text>
<path class="h" d="M127 155V98H215l8 -12l12 24l12 -24l12 24l12 -24l12 24l7 -12H312V188H410M127 231V288H215l8 -12l12 24l12 -24l12 24l12 -24l12 24l7 -12H312V232H402" style="stroke-width:1.5;stroke-linejoin:miter"/>
<path class="k" d="M121 138h12v20h-12z M121 228h12v20h-12z"/>
<text x="158" y="75" font-size="26" class="b" textLength="32" lengthAdjust="spacingAndGlyphs">51</text>
<text x="160" y="338" font-size="26" class="b" textLength="32" lengthAdjust="spacingAndGlyphs">51</text>
<path class="t" d="M175 80V98M180 288V305"/>
<path class="t" d="M405 180H465V245H405" stroke-dasharray="3 1.500"/>
<circle class="s" cx="458" cy="190" r="5"/><circle class="s" cx="458" cy="228" r="5"/>
<path class="s" d="M465 190H535M465 228H535"/>
<path d="M530 190H556M530 228H556" stroke="#111" stroke-width="2.6" fill="none"/>
<path class="s" d="M382 268L404 258L424 267L458 258L460 246M382 268L386 286L408 276"/>
</g>
</defs>
<use href="#ckt"/>
<use href="#ckt" x="523"/>
<!-- circuit 1 extras -->
<text x="315" y="75" font-size="26" class="b" textLength="33" lengthAdjust="spacingAndGlyphs">15</text>
<text x="315" y="338" font-size="26" class="b" textLength="34" lengthAdjust="spacingAndGlyphs">15</text>
<path class="t" d="M330 80V100L312 120M312 270L330 285L333 310"/>
<path class="t" d="M428 88H470V145H428Z" stroke-dasharray="3 1.500"/>
<path class="s" d="M428 98H352V215H405M428 125H372V200H405" style="stroke-width:1.4"/>
<!-- circuit 2 extras -->
<text x="865" y="75" font-size="26" class="b" textLength="33" lengthAdjust="spacingAndGlyphs">15</text>
<text x="858" y="338" font-size="26" class="b" textLength="33" lengthAdjust="spacingAndGlyphs">15</text>
<path class="t" d="M883 82V110L838 130M838 262L870 280L875 312"/>
</g>
<!-- loctite note -->
<path class="h" d="M486.500 760V768M483.200 762L489.800 766M483.200 766L489.800 762" style="stroke-width:1.300"/>
<text x="494.500" y="768.500" font-size="11.5" class="r" textLength="116" lengthAdjust="spacingAndGlyphs">mit Loctite 222 sichern</text>
<text x="494.500" y="778.800" font-size="11.5" class="r" textLength="118" lengthAdjust="spacingAndGlyphs">secure with Loctite 222</text>

<!-- k0_text.svg -->
<g font-size="10.6">
<text x="937.4" y="715.6" class="r" textLength="119.6" lengthAdjust="spacingAndGlyphs">Änderungen vorbehalten</text>
<text x="937.4" y="725.6" class="r" textLength="108.8" lengthAdjust="spacingAndGlyphs">Modifications reserved</text>
<text x="937.4" y="735.6" class="r" textLength="114.2" lengthAdjust="spacingAndGlyphs">Modifications resérvées</text>
<text x="937.4" y="745.6" class="r" textLength="102.2" lengthAdjust="spacingAndGlyphs">Salvo modificaciones</text>
<text x="937.4" y="757.6" class="b" textLength="106.6" lengthAdjust="spacingAndGlyphs">Robert Bosch GmbH</text>
<text x="937.4" y="768" class="b" textLength="187.6" lengthAdjust="spacingAndGlyphs">Geschäftsbereich Elektrowerkzeuge</text>
<text x="937.4" y="778" class="b" textLength="172" lengthAdjust="spacingAndGlyphs">D 70745 Leinfelden-Echterdingen</text>
</g>

</svg>
</body></html>
